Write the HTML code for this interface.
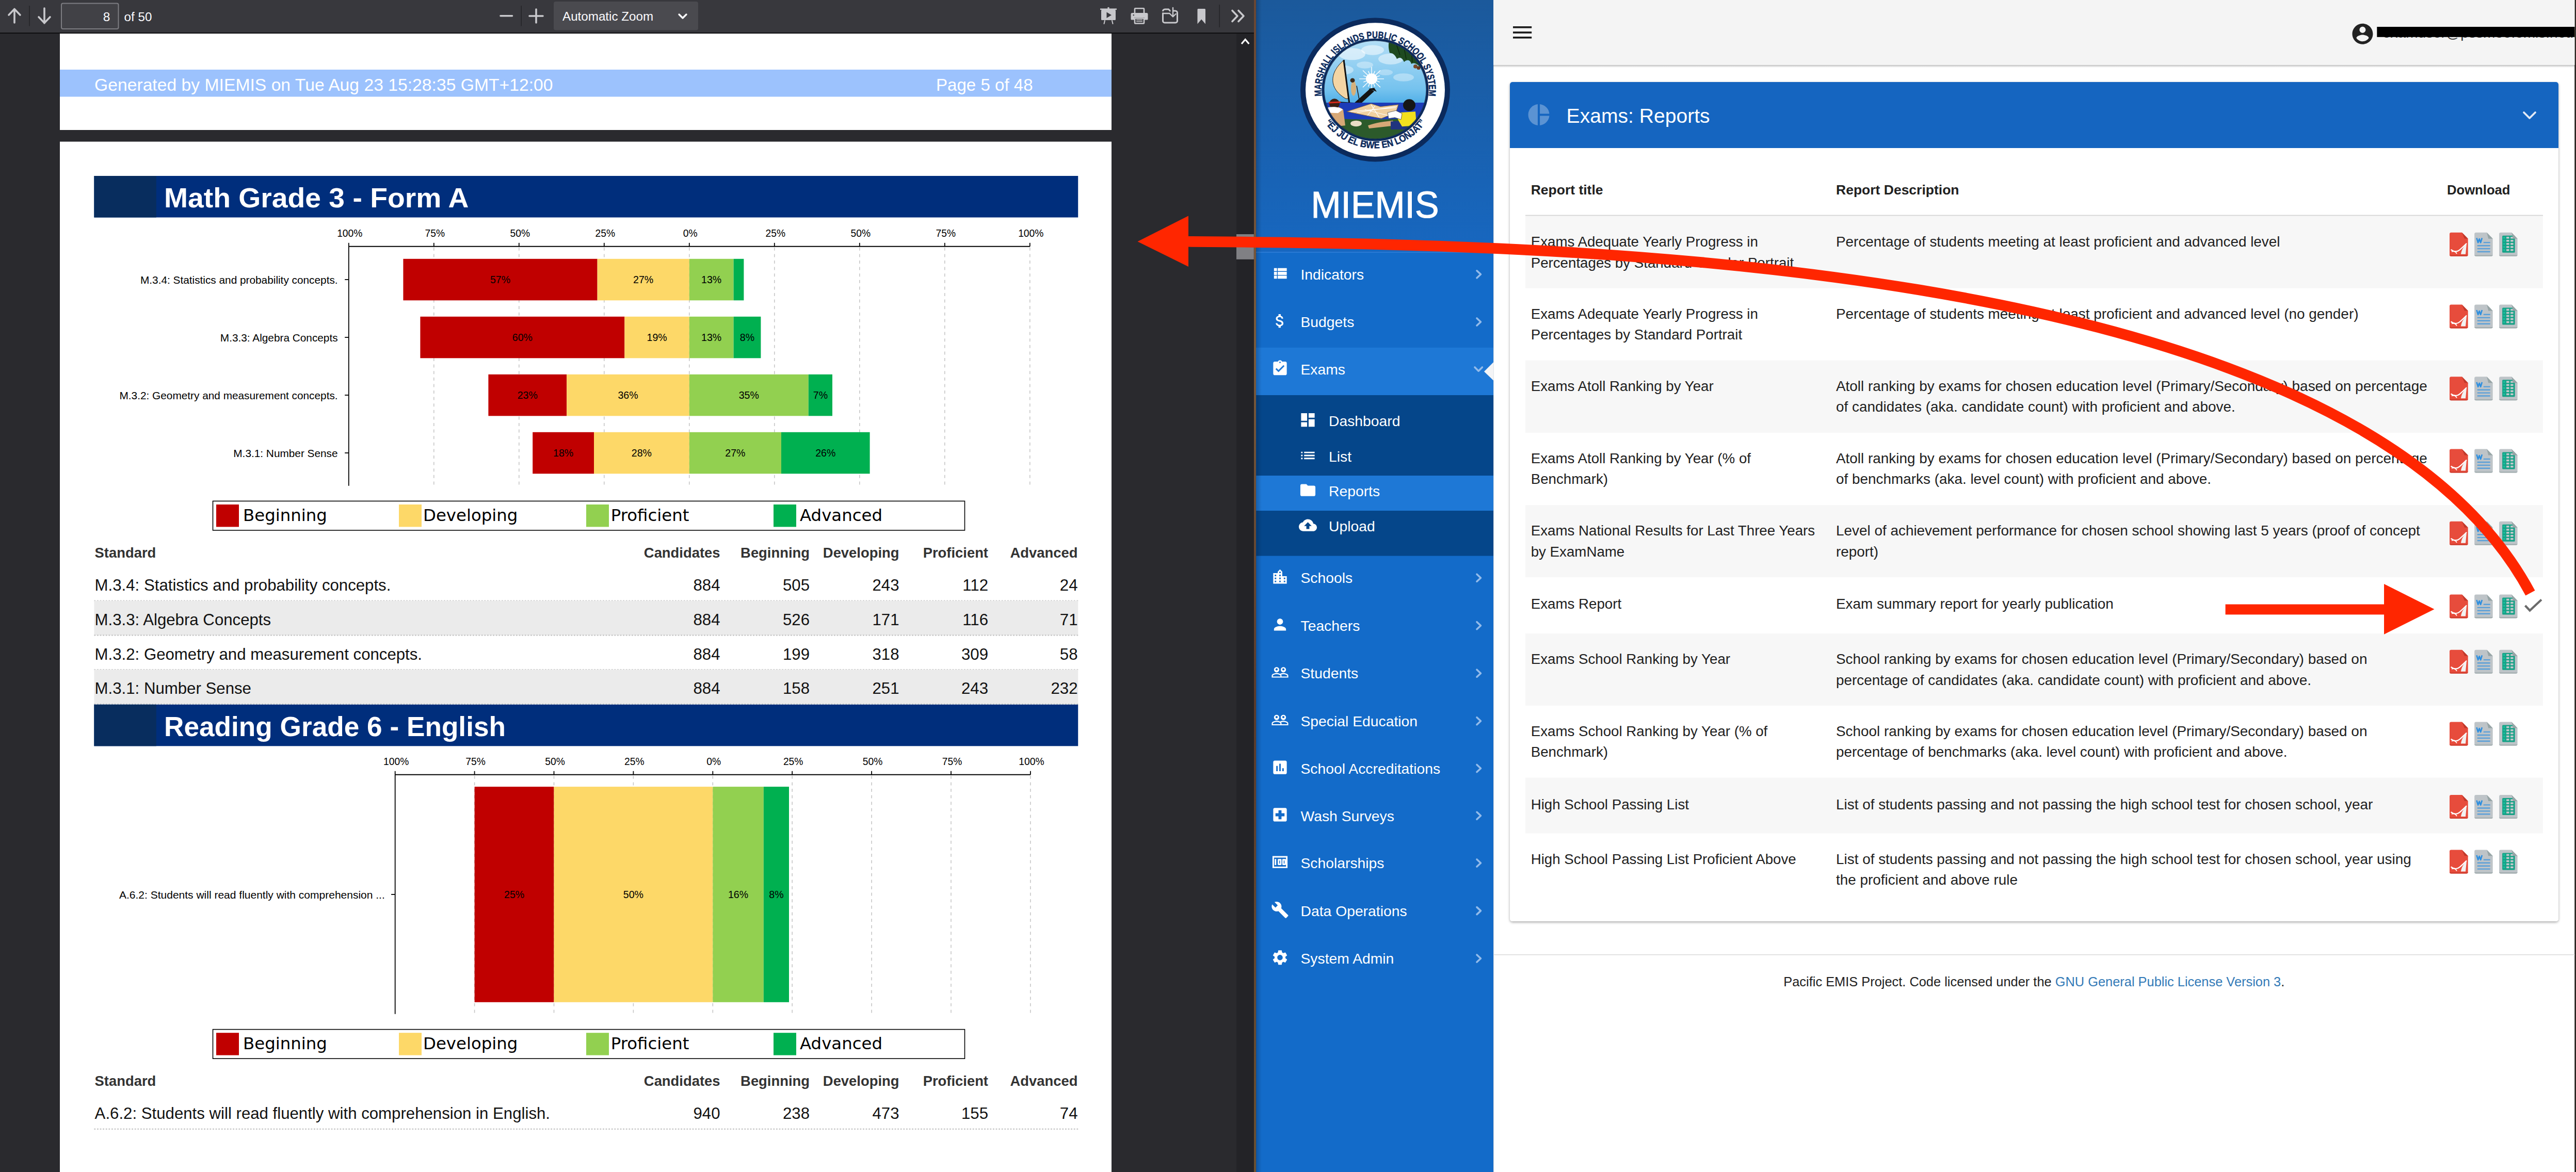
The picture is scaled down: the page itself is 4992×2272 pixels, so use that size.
<!DOCTYPE html>
<html lang="en">
<head>
<meta charset="utf-8">
<title>Exams: Reports - MIEMIS</title>
<style>
html, body { margin: 0; padding: 0; background: #2a2a2e; width: 100%; height: 100%; overflow: hidden; }
svg text { white-space: pre; }
</style>
</head>
<body>
<svg width="4992" height="2272" viewBox="0 0 4992 2272" preserveAspectRatio="none" style="display:block;width:100vw;height:100vh">
<rect x="0.0" y="0.0" width="2430.0" height="2272.0" fill="#2a2a2e" />
<rect x="2396.0" y="65.0" width="34.0" height="2207.0" fill="#232327" />
<rect x="116.0" y="65.0" width="2038.0" height="187.0" fill="#ffffff" />
<rect x="116.0" y="274.6" width="2038.0" height="1997.4" fill="#ffffff" />
<rect x="116.0" y="135.0" width="2038.0" height="52.5" fill="#9cc2fd" />
<text x="183.0" y="175.5" font-family="'Liberation Sans', Arial, sans-serif" font-size="33.7" font-weight="400" fill="#ffffff" text-anchor="start" >Generated by MIEMIS on Tue Aug 23 15:28:35 GMT+12:00</text>
<text x="1814.0" y="175.5" font-family="'Liberation Sans', Arial, sans-serif" font-size="33.1" font-weight="400" fill="#ffffff" text-anchor="start" >Page 5 of 48</text>
<rect x="0.0" y="0.0" width="2430.0" height="63.3" fill="#38383d" />
<rect x="0.0" y="63.3" width="2430.0" height="1.8" fill="#0c0c0d" />
<path d="M28 44 V18 M17 29 L28 17.5 L39 29" stroke="#c8c8cc" stroke-width="3.6" fill="none" stroke-linecap="round" stroke-linejoin="round"/>
<rect x="56.3" y="11.0" width="1.4" height="39.5" fill="#232326" />
<path d="M86 16 V45 M75 33 L86 44.5 L97 33" stroke="#c8c8cc" stroke-width="3.6" fill="none" stroke-linecap="round" stroke-linejoin="round"/>
<rect x="119" y="6.5" width="110.5" height="49.5" rx="3" fill="#414146" stroke="#7d7d82" stroke-width="2"/>
<text x="213.5" y="41.0" font-family="'Liberation Sans', Arial, sans-serif" font-size="24.5" font-weight="400" fill="#fbfbfe" text-anchor="end" >8</text>
<text x="240.6" y="41.0" font-family="'Liberation Sans', Arial, sans-serif" font-size="24.2" font-weight="400" fill="#fbfbfe" text-anchor="start" >of 50</text>
<path d="M970 30.7 H992.5" stroke="#c8c8cc" stroke-width="3.6" stroke-linecap="round"/>
<rect x="1009.5" y="11.0" width="1.4" height="39.5" fill="#232326" />
<path d="M1026 31 H1052 M1039 18 V44" stroke="#c8c8cc" stroke-width="3.6" stroke-linecap="round"/>
<rect x="1073" y="3" width="280" height="55.5" rx="4" fill="#4a4a4f"/>
<text x="1090.0" y="40.0" font-family="'Liberation Sans', Arial, sans-serif" font-size="24.2" font-weight="400" fill="#fbfbfe" text-anchor="start" >Automatic Zoom</text>
<path d="M1316 28 L1323 35 L1330 28" stroke="#fbfbfe" stroke-width="3.4" fill="none" stroke-linecap="round" stroke-linejoin="round"/>
<g fill="#c8c8cc" stroke="none"><rect x="2132" y="16.5" width="32" height="2.6"/><rect x="2134" y="19" width="28" height="20" rx="1.5"/><circle cx="2148" cy="15.5" r="1.8"/></g>
<path d="M2144.5 23.5 L2144.5 35 L2154 29.2 Z" fill="#38383d"/>
<path d="M2141 40 L2139.5 46 M2155 40 L2156.5 46" stroke="#c8c8cc" stroke-width="2" stroke-linecap="round"/>
<g fill="none" stroke="#c8c8cc" stroke-width="2.6"><rect x="2199" y="16.2" width="18" height="10" rx="1"/><rect x="2199" y="35.5" width="18" height="10" rx="1"/></g>
<path d="M2194 25 h28 a2.5 2.5 0 0 1 2.5 2.5 v9.5 a1.5 1.5 0 0 1 -1.5 1.5 h-5.5 v-4.5 h-19 v4.5 h-5.5 a1.5 1.5 0 0 1 -1.5 -1.5 v-9.5 a2.5 2.5 0 0 1 2.5 -2.5z" fill="#c8c8cc"/>
<path d="M2202 38.5 h12 M2202 41.5 h12" stroke="#c8c8cc" stroke-width="1.6"/>
<circle cx="2196.8" cy="29.2" r="1.2" fill="#38383d"/>
<path d="M2253.5 22 a4 4 0 0 1 4 -4 h7 l3 3 h1 M2273 21 h4.5 a4 4 0 0 1 4 4 v15.5 a3.5 3.5 0 0 1 -3.5 3.5 h-21 a3.5 3.5 0 0 1 -3.5 -3.5 v-16" stroke="#c8c8cc" stroke-width="3" fill="none"/>
<path d="M2253.5 26 h14" stroke="#c8c8cc" stroke-width="2.6"/>
<path d="M2273 15 V32 M2267.5 27 L2273 32.5 L2278.5 27" stroke="#c8c8cc" stroke-width="2.4" fill="none" stroke-linecap="round" stroke-linejoin="round"/>
<path d="M2320.5 18.5 a1.5 1.5 0 0 1 1.5 -1.5 h12.5 a1.5 1.5 0 0 1 1.5 1.5 V46.5 L2328.2 37.5 L2320.5 46.5 Z" fill="#c8c8cc"/>
<rect x="2362.5" y="9.0" width="1.4" height="44.0" fill="#232326" />
<path d="M2388 20.5 L2398 31 L2388 41.5 M2400 20.5 L2410 31 L2400 41.5" stroke="#c8c8cc" stroke-width="3.6" fill="none" stroke-linecap="round" stroke-linejoin="round"/>
<path d="M2406 85 L2413.2 76.5 L2420.4 85" stroke="#ffffff" stroke-width="3.2" fill="none"/>
<rect x="2396.0" y="454.0" width="33.8" height="48.8" fill="#808084" />
<defs><linearGradient id="brown" x1="0" y1="0" x2="0" y2="1"><stop offset="0" stop-color="#6a4632"/><stop offset="0.3" stop-color="#7a5a3a"/><stop offset="0.6" stop-color="#5a3a2a"/><stop offset="1" stop-color="#6b5030"/></linearGradient></defs>
<rect x="2430.0" y="0.0" width="4.2" height="2272.0" fill="url(#brown)" />
<rect x="182.4" y="341.0" width="1906.8" height="80.5" fill="#002e7c" />
<rect x="182.4" y="341.0" width="120.4" height="80.5" fill="#082d5e" />
<text x="318.0" y="401.8" font-family="'Liberation Sans', Arial, sans-serif" font-size="54.5" font-weight="700" fill="#ffffff" text-anchor="start" textLength="590.5" lengthAdjust="spacingAndGlyphs">Math Grade 3 - Form A</text>
<line x1="840.8" y1="479.8" x2="840.8" y2="941.8" stroke="#c6c6c6" stroke-width="1.6" stroke-dasharray="6,6.6"/>
<line x1="1005.8" y1="479.8" x2="1005.8" y2="941.8" stroke="#c6c6c6" stroke-width="1.6" stroke-dasharray="6,6.6"/>
<line x1="1170.8" y1="479.8" x2="1170.8" y2="941.8" stroke="#c6c6c6" stroke-width="1.6" stroke-dasharray="6,6.6"/>
<line x1="1335.8" y1="479.8" x2="1335.8" y2="941.8" stroke="#c6c6c6" stroke-width="1.6" stroke-dasharray="6,6.6"/>
<line x1="1500.8" y1="479.8" x2="1500.8" y2="941.8" stroke="#c6c6c6" stroke-width="1.6" stroke-dasharray="6,6.6"/>
<line x1="1665.8" y1="479.8" x2="1665.8" y2="941.8" stroke="#c6c6c6" stroke-width="1.6" stroke-dasharray="6,6.6"/>
<line x1="1830.8" y1="479.8" x2="1830.8" y2="941.8" stroke="#c6c6c6" stroke-width="1.6" stroke-dasharray="6,6.6"/>
<line x1="1995.8" y1="479.8" x2="1995.8" y2="941.8" stroke="#c6c6c6" stroke-width="1.6" stroke-dasharray="6,6.6"/>
<rect x="781.4" y="501.8" width="376.2" height="80.5" fill="#c00000" />
<text x="969.5" y="549.2" font-family="'Liberation Sans', Arial, sans-serif" font-size="19.6" font-weight="400" fill="#000" text-anchor="middle" >57%</text>
<rect x="1157.6" y="501.8" width="178.2" height="80.5" fill="#fdd868" />
<text x="1246.7" y="549.2" font-family="'Liberation Sans', Arial, sans-serif" font-size="19.6" font-weight="400" fill="#000" text-anchor="middle" >27%</text>
<rect x="1335.8" y="501.8" width="85.8" height="80.5" fill="#92d050" />
<text x="1378.7" y="549.2" font-family="'Liberation Sans', Arial, sans-serif" font-size="19.6" font-weight="400" fill="#000" text-anchor="middle" >13%</text>
<rect x="1421.6" y="501.8" width="19.8" height="80.5" fill="#00b050" />
<rect x="814.4" y="613.8" width="396.0" height="80.5" fill="#c00000" />
<text x="1012.4" y="661.2" font-family="'Liberation Sans', Arial, sans-serif" font-size="19.6" font-weight="400" fill="#000" text-anchor="middle" >60%</text>
<rect x="1210.4" y="613.8" width="125.4" height="80.5" fill="#fdd868" />
<text x="1273.1" y="661.2" font-family="'Liberation Sans', Arial, sans-serif" font-size="19.6" font-weight="400" fill="#000" text-anchor="middle" >19%</text>
<rect x="1335.8" y="613.8" width="85.8" height="80.5" fill="#92d050" />
<text x="1378.7" y="661.2" font-family="'Liberation Sans', Arial, sans-serif" font-size="19.6" font-weight="400" fill="#000" text-anchor="middle" >13%</text>
<rect x="1421.6" y="613.8" width="52.8" height="80.5" fill="#00b050" />
<text x="1448.0" y="661.2" font-family="'Liberation Sans', Arial, sans-serif" font-size="19.6" font-weight="400" fill="#000" text-anchor="middle" >8%</text>
<rect x="946.4" y="725.8" width="151.8" height="80.5" fill="#c00000" />
<text x="1022.3" y="773.2" font-family="'Liberation Sans', Arial, sans-serif" font-size="19.6" font-weight="400" fill="#000" text-anchor="middle" >23%</text>
<rect x="1098.2" y="725.8" width="237.6" height="80.5" fill="#fdd868" />
<text x="1217.0" y="773.2" font-family="'Liberation Sans', Arial, sans-serif" font-size="19.6" font-weight="400" fill="#000" text-anchor="middle" >36%</text>
<rect x="1335.8" y="725.8" width="231.0" height="80.5" fill="#92d050" />
<text x="1451.3" y="773.2" font-family="'Liberation Sans', Arial, sans-serif" font-size="19.6" font-weight="400" fill="#000" text-anchor="middle" >35%</text>
<rect x="1566.8" y="725.8" width="46.2" height="80.5" fill="#00b050" />
<text x="1589.9" y="773.2" font-family="'Liberation Sans', Arial, sans-serif" font-size="19.6" font-weight="400" fill="#000" text-anchor="middle" >7%</text>
<rect x="1032.2" y="837.8" width="118.8" height="80.5" fill="#c00000" />
<text x="1091.6" y="885.2" font-family="'Liberation Sans', Arial, sans-serif" font-size="19.6" font-weight="400" fill="#000" text-anchor="middle" >18%</text>
<rect x="1151.0" y="837.8" width="184.8" height="80.5" fill="#fdd868" />
<text x="1243.4" y="885.2" font-family="'Liberation Sans', Arial, sans-serif" font-size="19.6" font-weight="400" fill="#000" text-anchor="middle" >28%</text>
<rect x="1335.8" y="837.8" width="178.2" height="80.5" fill="#92d050" />
<text x="1424.9" y="885.2" font-family="'Liberation Sans', Arial, sans-serif" font-size="19.6" font-weight="400" fill="#000" text-anchor="middle" >27%</text>
<rect x="1514.0" y="837.8" width="171.6" height="80.5" fill="#00b050" />
<text x="1599.8" y="885.2" font-family="'Liberation Sans', Arial, sans-serif" font-size="19.6" font-weight="400" fill="#000" text-anchor="middle" >26%</text>
<line x1="675.8" y1="477.8" x2="1995.8" y2="477.8" stroke="#000" stroke-width="2"/>
<line x1="675.8" y1="470.8" x2="675.8" y2="477.8" stroke="#000" stroke-width="1.8"/>
<line x1="840.8" y1="470.8" x2="840.8" y2="477.8" stroke="#000" stroke-width="1.8"/>
<line x1="1005.8" y1="470.8" x2="1005.8" y2="477.8" stroke="#000" stroke-width="1.8"/>
<line x1="1170.8" y1="470.8" x2="1170.8" y2="477.8" stroke="#000" stroke-width="1.8"/>
<line x1="1335.8" y1="470.8" x2="1335.8" y2="477.8" stroke="#000" stroke-width="1.8"/>
<line x1="1500.8" y1="470.8" x2="1500.8" y2="477.8" stroke="#000" stroke-width="1.8"/>
<line x1="1665.8" y1="470.8" x2="1665.8" y2="477.8" stroke="#000" stroke-width="1.8"/>
<line x1="1830.8" y1="470.8" x2="1830.8" y2="477.8" stroke="#000" stroke-width="1.8"/>
<line x1="1995.8" y1="470.8" x2="1995.8" y2="477.8" stroke="#000" stroke-width="1.8"/>
<line x1="675.8" y1="477.8" x2="675.8" y2="941.8" stroke="#000" stroke-width="1.8"/>
<text x="677.8" y="459.0" font-family="'Liberation Sans', Arial, sans-serif" font-size="19.3" font-weight="400" fill="#000" text-anchor="middle" >100%</text>
<text x="842.8" y="459.0" font-family="'Liberation Sans', Arial, sans-serif" font-size="19.3" font-weight="400" fill="#000" text-anchor="middle" >75%</text>
<text x="1007.8" y="459.0" font-family="'Liberation Sans', Arial, sans-serif" font-size="19.3" font-weight="400" fill="#000" text-anchor="middle" >50%</text>
<text x="1172.8" y="459.0" font-family="'Liberation Sans', Arial, sans-serif" font-size="19.3" font-weight="400" fill="#000" text-anchor="middle" >25%</text>
<text x="1337.8" y="459.0" font-family="'Liberation Sans', Arial, sans-serif" font-size="19.3" font-weight="400" fill="#000" text-anchor="middle" >0%</text>
<text x="1502.8" y="459.0" font-family="'Liberation Sans', Arial, sans-serif" font-size="19.3" font-weight="400" fill="#000" text-anchor="middle" >25%</text>
<text x="1667.8" y="459.0" font-family="'Liberation Sans', Arial, sans-serif" font-size="19.3" font-weight="400" fill="#000" text-anchor="middle" >50%</text>
<text x="1832.8" y="459.0" font-family="'Liberation Sans', Arial, sans-serif" font-size="19.3" font-weight="400" fill="#000" text-anchor="middle" >75%</text>
<text x="1997.8" y="459.0" font-family="'Liberation Sans', Arial, sans-serif" font-size="19.3" font-weight="400" fill="#000" text-anchor="middle" >100%</text>
<line x1="668.2" y1="542.0" x2="675.8" y2="542.0" stroke="#000" stroke-width="1.8"/>
<text x="654.6" y="549.7" font-family="'Liberation Sans', Arial, sans-serif" font-size="20.8" font-weight="400" fill="#000" text-anchor="end" >M.3.4: Statistics and probability concepts.</text>
<line x1="668.2" y1="654.0" x2="675.8" y2="654.0" stroke="#000" stroke-width="1.8"/>
<text x="654.6" y="661.7" font-family="'Liberation Sans', Arial, sans-serif" font-size="20.8" font-weight="400" fill="#000" text-anchor="end" >M.3.3: Algebra Concepts</text>
<line x1="668.2" y1="766.0" x2="675.8" y2="766.0" stroke="#000" stroke-width="1.8"/>
<text x="654.6" y="773.7" font-family="'Liberation Sans', Arial, sans-serif" font-size="20.8" font-weight="400" fill="#000" text-anchor="end" >M.3.2: Geometry and measurement concepts.</text>
<line x1="668.2" y1="878.0" x2="675.8" y2="878.0" stroke="#000" stroke-width="1.8"/>
<text x="654.6" y="885.7" font-family="'Liberation Sans', Arial, sans-serif" font-size="20.8" font-weight="400" fill="#000" text-anchor="end" >M.3.1: Number Sense</text>
<rect x="412.5" y="971.4" width="1457" height="56.6" fill="#fff" stroke="#000" stroke-width="1.6"/>
<rect x="419.0" y="978.0" width="44.0" height="43.4" fill="#c00000" />
<text x="471.0" y="1009.6" font-family="'DejaVu Sans', sans-serif" font-size="32.4" font-weight="400" fill="#000" text-anchor="start" >Beginning</text>
<rect x="773.0" y="978.0" width="44.0" height="43.4" fill="#fdd868" />
<text x="820.0" y="1009.6" font-family="'DejaVu Sans', sans-serif" font-size="32.4" font-weight="400" fill="#000" text-anchor="start" >Developing</text>
<rect x="1136.0" y="978.0" width="44.0" height="43.4" fill="#92d050" />
<text x="1183.7" y="1009.6" font-family="'DejaVu Sans', sans-serif" font-size="32.4" font-weight="400" fill="#000" text-anchor="start" >Proficient</text>
<rect x="1499.0" y="978.0" width="44.0" height="43.4" fill="#00b050" />
<text x="1550.0" y="1009.6" font-family="'DejaVu Sans', sans-serif" font-size="32.4" font-weight="400" fill="#000" text-anchor="start" >Advanced</text>
<text x="183.6" y="1080.6" font-family="'Liberation Sans', Arial, sans-serif" font-size="27.4" font-weight="700" fill="#333333" text-anchor="start" >Standard</text>
<text x="1395.5" y="1080.6" font-family="'Liberation Sans', Arial, sans-serif" font-size="27.4" font-weight="700" fill="#333333" text-anchor="end" >Candidates</text>
<text x="1569.0" y="1080.6" font-family="'Liberation Sans', Arial, sans-serif" font-size="27.4" font-weight="700" fill="#333333" text-anchor="end" >Beginning</text>
<text x="1742.5" y="1080.6" font-family="'Liberation Sans', Arial, sans-serif" font-size="27.4" font-weight="700" fill="#333333" text-anchor="end" >Developing</text>
<text x="1915.0" y="1080.6" font-family="'Liberation Sans', Arial, sans-serif" font-size="27.4" font-weight="700" fill="#333333" text-anchor="end" >Proficient</text>
<text x="2088.5" y="1080.6" font-family="'Liberation Sans', Arial, sans-serif" font-size="27.4" font-weight="700" fill="#333333" text-anchor="end" >Advanced</text>
<line x1="182.4" y1="1164.8" x2="2089.2" y2="1164.8" stroke="#c9c9c9" stroke-width="2.6" stroke-dasharray="2.8,2.8"/>
<text x="183.6" y="1145.0" font-family="'Liberation Sans', Arial, sans-serif" font-size="31.2" font-weight="400" fill="#111" text-anchor="start" >M.3.4: Statistics and probability concepts.</text>
<text x="1395.5" y="1145.0" font-family="'Liberation Sans', Arial, sans-serif" font-size="31.2" font-weight="400" fill="#111" text-anchor="end" >884</text>
<text x="1569.0" y="1145.0" font-family="'Liberation Sans', Arial, sans-serif" font-size="31.2" font-weight="400" fill="#111" text-anchor="end" >505</text>
<text x="1742.5" y="1145.0" font-family="'Liberation Sans', Arial, sans-serif" font-size="31.2" font-weight="400" fill="#111" text-anchor="end" >243</text>
<text x="1915.0" y="1145.0" font-family="'Liberation Sans', Arial, sans-serif" font-size="31.2" font-weight="400" fill="#111" text-anchor="end" >112</text>
<text x="2088.5" y="1145.0" font-family="'Liberation Sans', Arial, sans-serif" font-size="31.2" font-weight="400" fill="#111" text-anchor="end" >24</text>
<rect x="182.4" y="1164.8" width="1906.8" height="66.8" fill="#ebebeb" />
<line x1="182.4" y1="1231.5" x2="2089.2" y2="1231.5" stroke="#c9c9c9" stroke-width="2.6" stroke-dasharray="2.8,2.8"/>
<text x="183.6" y="1211.8" font-family="'Liberation Sans', Arial, sans-serif" font-size="31.2" font-weight="400" fill="#111" text-anchor="start" >M.3.3: Algebra Concepts</text>
<text x="1395.5" y="1211.8" font-family="'Liberation Sans', Arial, sans-serif" font-size="31.2" font-weight="400" fill="#111" text-anchor="end" >884</text>
<text x="1569.0" y="1211.8" font-family="'Liberation Sans', Arial, sans-serif" font-size="31.2" font-weight="400" fill="#111" text-anchor="end" >526</text>
<text x="1742.5" y="1211.8" font-family="'Liberation Sans', Arial, sans-serif" font-size="31.2" font-weight="400" fill="#111" text-anchor="end" >171</text>
<text x="1915.0" y="1211.8" font-family="'Liberation Sans', Arial, sans-serif" font-size="31.2" font-weight="400" fill="#111" text-anchor="end" >116</text>
<text x="2088.5" y="1211.8" font-family="'Liberation Sans', Arial, sans-serif" font-size="31.2" font-weight="400" fill="#111" text-anchor="end" >71</text>
<line x1="182.4" y1="1298.2" x2="2089.2" y2="1298.2" stroke="#c9c9c9" stroke-width="2.6" stroke-dasharray="2.8,2.8"/>
<text x="183.6" y="1278.5" font-family="'Liberation Sans', Arial, sans-serif" font-size="31.2" font-weight="400" fill="#111" text-anchor="start" >M.3.2: Geometry and measurement concepts.</text>
<text x="1395.5" y="1278.5" font-family="'Liberation Sans', Arial, sans-serif" font-size="31.2" font-weight="400" fill="#111" text-anchor="end" >884</text>
<text x="1569.0" y="1278.5" font-family="'Liberation Sans', Arial, sans-serif" font-size="31.2" font-weight="400" fill="#111" text-anchor="end" >199</text>
<text x="1742.5" y="1278.5" font-family="'Liberation Sans', Arial, sans-serif" font-size="31.2" font-weight="400" fill="#111" text-anchor="end" >318</text>
<text x="1915.0" y="1278.5" font-family="'Liberation Sans', Arial, sans-serif" font-size="31.2" font-weight="400" fill="#111" text-anchor="end" >309</text>
<text x="2088.5" y="1278.5" font-family="'Liberation Sans', Arial, sans-serif" font-size="31.2" font-weight="400" fill="#111" text-anchor="end" >58</text>
<rect x="182.4" y="1298.2" width="1906.8" height="66.8" fill="#ebebeb" />
<line x1="182.4" y1="1365.0" x2="2089.2" y2="1365.0" stroke="#c9c9c9" stroke-width="2.6" stroke-dasharray="2.8,2.8"/>
<text x="183.6" y="1345.2" font-family="'Liberation Sans', Arial, sans-serif" font-size="31.2" font-weight="400" fill="#111" text-anchor="start" >M.3.1: Number Sense</text>
<text x="1395.5" y="1345.2" font-family="'Liberation Sans', Arial, sans-serif" font-size="31.2" font-weight="400" fill="#111" text-anchor="end" >884</text>
<text x="1569.0" y="1345.2" font-family="'Liberation Sans', Arial, sans-serif" font-size="31.2" font-weight="400" fill="#111" text-anchor="end" >158</text>
<text x="1742.5" y="1345.2" font-family="'Liberation Sans', Arial, sans-serif" font-size="31.2" font-weight="400" fill="#111" text-anchor="end" >251</text>
<text x="1915.0" y="1345.2" font-family="'Liberation Sans', Arial, sans-serif" font-size="31.2" font-weight="400" fill="#111" text-anchor="end" >243</text>
<text x="2088.5" y="1345.2" font-family="'Liberation Sans', Arial, sans-serif" font-size="31.2" font-weight="400" fill="#111" text-anchor="end" >232</text>
<rect x="182.4" y="1365.8" width="1906.8" height="80.5" fill="#002e7c" />
<rect x="182.4" y="1365.8" width="120.4" height="80.5" fill="#082d5e" />
<text x="318.0" y="1426.6" font-family="'Liberation Sans', Arial, sans-serif" font-size="54.5" font-weight="700" fill="#ffffff" text-anchor="start" textLength="662" lengthAdjust="spacingAndGlyphs">Reading Grade 6 - English</text>
<line x1="919.6" y1="1503.8" x2="919.6" y2="1965.8" stroke="#c6c6c6" stroke-width="1.6" stroke-dasharray="6,6.6"/>
<line x1="1073.5" y1="1503.8" x2="1073.5" y2="1965.8" stroke="#c6c6c6" stroke-width="1.6" stroke-dasharray="6,6.6"/>
<line x1="1227.4" y1="1503.8" x2="1227.4" y2="1965.8" stroke="#c6c6c6" stroke-width="1.6" stroke-dasharray="6,6.6"/>
<line x1="1381.3" y1="1503.8" x2="1381.3" y2="1965.8" stroke="#c6c6c6" stroke-width="1.6" stroke-dasharray="6,6.6"/>
<line x1="1535.2" y1="1503.8" x2="1535.2" y2="1965.8" stroke="#c6c6c6" stroke-width="1.6" stroke-dasharray="6,6.6"/>
<line x1="1689.1" y1="1503.8" x2="1689.1" y2="1965.8" stroke="#c6c6c6" stroke-width="1.6" stroke-dasharray="6,6.6"/>
<line x1="1843.0" y1="1503.8" x2="1843.0" y2="1965.8" stroke="#c6c6c6" stroke-width="1.6" stroke-dasharray="6,6.6"/>
<line x1="1996.9" y1="1503.8" x2="1996.9" y2="1965.8" stroke="#c6c6c6" stroke-width="1.6" stroke-dasharray="6,6.6"/>
<rect x="919.6" y="1525.1" width="153.9" height="417.7" fill="#c00000" />
<text x="996.6" y="1741.1" font-family="'Liberation Sans', Arial, sans-serif" font-size="19.6" font-weight="400" fill="#000" text-anchor="middle" >25%</text>
<rect x="1073.5" y="1525.1" width="307.8" height="417.7" fill="#fdd868" />
<text x="1227.4" y="1741.1" font-family="'Liberation Sans', Arial, sans-serif" font-size="19.6" font-weight="400" fill="#000" text-anchor="middle" >50%</text>
<rect x="1381.3" y="1525.1" width="98.5" height="417.7" fill="#92d050" />
<text x="1430.5" y="1741.1" font-family="'Liberation Sans', Arial, sans-serif" font-size="19.6" font-weight="400" fill="#000" text-anchor="middle" >16%</text>
<rect x="1479.8" y="1525.1" width="49.2" height="417.7" fill="#00b050" />
<text x="1504.4" y="1741.1" font-family="'Liberation Sans', Arial, sans-serif" font-size="19.6" font-weight="400" fill="#000" text-anchor="middle" >8%</text>
<line x1="765.7" y1="1501.8" x2="1996.9" y2="1501.8" stroke="#000" stroke-width="2"/>
<line x1="765.7" y1="1494.8" x2="765.7" y2="1501.8" stroke="#000" stroke-width="1.8"/>
<line x1="919.6" y1="1494.8" x2="919.6" y2="1501.8" stroke="#000" stroke-width="1.8"/>
<line x1="1073.5" y1="1494.8" x2="1073.5" y2="1501.8" stroke="#000" stroke-width="1.8"/>
<line x1="1227.4" y1="1494.8" x2="1227.4" y2="1501.8" stroke="#000" stroke-width="1.8"/>
<line x1="1381.3" y1="1494.8" x2="1381.3" y2="1501.8" stroke="#000" stroke-width="1.8"/>
<line x1="1535.2" y1="1494.8" x2="1535.2" y2="1501.8" stroke="#000" stroke-width="1.8"/>
<line x1="1689.1" y1="1494.8" x2="1689.1" y2="1501.8" stroke="#000" stroke-width="1.8"/>
<line x1="1843.0" y1="1494.8" x2="1843.0" y2="1501.8" stroke="#000" stroke-width="1.8"/>
<line x1="1996.9" y1="1494.8" x2="1996.9" y2="1501.8" stroke="#000" stroke-width="1.8"/>
<line x1="765.7" y1="1501.8" x2="765.7" y2="1965.8" stroke="#000" stroke-width="1.8"/>
<text x="767.7" y="1483.0" font-family="'Liberation Sans', Arial, sans-serif" font-size="19.3" font-weight="400" fill="#000" text-anchor="middle" >100%</text>
<text x="921.6" y="1483.0" font-family="'Liberation Sans', Arial, sans-serif" font-size="19.3" font-weight="400" fill="#000" text-anchor="middle" >75%</text>
<text x="1075.5" y="1483.0" font-family="'Liberation Sans', Arial, sans-serif" font-size="19.3" font-weight="400" fill="#000" text-anchor="middle" >50%</text>
<text x="1229.4" y="1483.0" font-family="'Liberation Sans', Arial, sans-serif" font-size="19.3" font-weight="400" fill="#000" text-anchor="middle" >25%</text>
<text x="1383.3" y="1483.0" font-family="'Liberation Sans', Arial, sans-serif" font-size="19.3" font-weight="400" fill="#000" text-anchor="middle" >0%</text>
<text x="1537.2" y="1483.0" font-family="'Liberation Sans', Arial, sans-serif" font-size="19.3" font-weight="400" fill="#000" text-anchor="middle" >25%</text>
<text x="1691.1" y="1483.0" font-family="'Liberation Sans', Arial, sans-serif" font-size="19.3" font-weight="400" fill="#000" text-anchor="middle" >50%</text>
<text x="1845.0" y="1483.0" font-family="'Liberation Sans', Arial, sans-serif" font-size="19.3" font-weight="400" fill="#000" text-anchor="middle" >75%</text>
<text x="1998.9" y="1483.0" font-family="'Liberation Sans', Arial, sans-serif" font-size="19.3" font-weight="400" fill="#000" text-anchor="middle" >100%</text>
<line x1="758.1" y1="1733.9" x2="765.7" y2="1733.9" stroke="#000" stroke-width="1.8"/>
<text x="745.8" y="1741.6" font-family="'Liberation Sans', Arial, sans-serif" font-size="21.0" font-weight="400" fill="#000" text-anchor="end" >A.6.2: Students will read fluently with comprehension ...</text>
<rect x="412.5" y="1995.6" width="1457" height="56.6" fill="#fff" stroke="#000" stroke-width="1.6"/>
<rect x="419.0" y="2002.2" width="44.0" height="43.4" fill="#c00000" />
<text x="471.0" y="2033.8" font-family="'DejaVu Sans', sans-serif" font-size="32.4" font-weight="400" fill="#000" text-anchor="start" >Beginning</text>
<rect x="773.0" y="2002.2" width="44.0" height="43.4" fill="#fdd868" />
<text x="820.0" y="2033.8" font-family="'DejaVu Sans', sans-serif" font-size="32.4" font-weight="400" fill="#000" text-anchor="start" >Developing</text>
<rect x="1136.0" y="2002.2" width="44.0" height="43.4" fill="#92d050" />
<text x="1183.7" y="2033.8" font-family="'DejaVu Sans', sans-serif" font-size="32.4" font-weight="400" fill="#000" text-anchor="start" >Proficient</text>
<rect x="1499.0" y="2002.2" width="44.0" height="43.4" fill="#00b050" />
<text x="1550.0" y="2033.8" font-family="'DejaVu Sans', sans-serif" font-size="32.4" font-weight="400" fill="#000" text-anchor="start" >Advanced</text>
<text x="183.6" y="2104.6" font-family="'Liberation Sans', Arial, sans-serif" font-size="27.4" font-weight="700" fill="#333333" text-anchor="start" >Standard</text>
<text x="1395.5" y="2104.6" font-family="'Liberation Sans', Arial, sans-serif" font-size="27.4" font-weight="700" fill="#333333" text-anchor="end" >Candidates</text>
<text x="1569.0" y="2104.6" font-family="'Liberation Sans', Arial, sans-serif" font-size="27.4" font-weight="700" fill="#333333" text-anchor="end" >Beginning</text>
<text x="1742.5" y="2104.6" font-family="'Liberation Sans', Arial, sans-serif" font-size="27.4" font-weight="700" fill="#333333" text-anchor="end" >Developing</text>
<text x="1915.0" y="2104.6" font-family="'Liberation Sans', Arial, sans-serif" font-size="27.4" font-weight="700" fill="#333333" text-anchor="end" >Proficient</text>
<text x="2088.5" y="2104.6" font-family="'Liberation Sans', Arial, sans-serif" font-size="27.4" font-weight="700" fill="#333333" text-anchor="end" >Advanced</text>
<line x1="182.4" y1="2188.8" x2="2089.2" y2="2188.8" stroke="#c9c9c9" stroke-width="2.6" stroke-dasharray="2.8,2.8"/>
<text x="183.6" y="2169.0" font-family="'Liberation Sans', Arial, sans-serif" font-size="31.2" font-weight="400" fill="#111" text-anchor="start" >A.6.2: Students will read fluently with comprehension in English.</text>
<text x="1395.5" y="2169.0" font-family="'Liberation Sans', Arial, sans-serif" font-size="31.2" font-weight="400" fill="#111" text-anchor="end" >940</text>
<text x="1569.0" y="2169.0" font-family="'Liberation Sans', Arial, sans-serif" font-size="31.2" font-weight="400" fill="#111" text-anchor="end" >238</text>
<text x="1742.5" y="2169.0" font-family="'Liberation Sans', Arial, sans-serif" font-size="31.2" font-weight="400" fill="#111" text-anchor="end" >473</text>
<text x="1915.0" y="2169.0" font-family="'Liberation Sans', Arial, sans-serif" font-size="31.2" font-weight="400" fill="#111" text-anchor="end" >155</text>
<text x="2088.5" y="2169.0" font-family="'Liberation Sans', Arial, sans-serif" font-size="31.2" font-weight="400" fill="#111" text-anchor="end" >74</text>
<defs><linearGradient id="sbtop" x1="0" y1="0" x2="0" y2="1"><stop offset="0" stop-color="#1b599b"/><stop offset="1" stop-color="#1767c0"/></linearGradient><linearGradient id="sbshadow" x1="0" y1="0" x2="1" y2="0"><stop offset="0" stop-color="#000" stop-opacity="0.2"/><stop offset="1" stop-color="#000" stop-opacity="0"/></linearGradient></defs>
<rect x="2434.2" y="0.0" width="460.0" height="489.0" fill="url(#sbtop)" />
<rect x="2434.2" y="489.0" width="460.0" height="1783.0" fill="#136bc9" />
<rect x="2434.2" y="488.0" width="460.0" height="2.0" fill="#2a7ad4" />
<rect x="2434.2" y="673.8" width="460.0" height="92.2" fill="#1e78d6" />
<rect x="2434.2" y="766.0" width="460.0" height="311.6" fill="#05468a" />
<rect x="2434.2" y="922.0" width="460.0" height="68.0" fill="#1e78d6" />
<rect x="2434.2" y="0.0" width="11.0" height="2272.0" fill="url(#sbshadow)" />
<g transform="translate(2665,174) scale(1,0.962)">
<defs><linearGradient id="sky" x1="0" y1="0" x2="0" y2="1"><stop offset="0" stop-color="#b3def6"/><stop offset="0.5" stop-color="#74c2ee"/><stop offset="0.63" stop-color="#52b0e8"/></linearGradient><clipPath id="scene"><circle cx="0" cy="0" r="99"/></clipPath><path id="arcTop" d="M -102.4 18.1 A 104 104 0 1 1 102.4 18.1"/><path id="arcBot" d="M -118 0 A 118 118 0 0 0 118 0"/></defs>
<circle cx="0" cy="0" r="145" fill="#0b2a5c"/>
<circle cx="0" cy="0" r="135" fill="#ffffff"/>
<circle cx="0" cy="0" r="103.5" fill="#0b2a5c"/>
<g clip-path="url(#scene)">
<rect x="-100" y="-100" width="200" height="200" fill="url(#sky)"/>
<ellipse cx="-45" cy="-72" rx="26" ry="12" fill="#ffffff" opacity="0.55"/>
<ellipse cx="-5" cy="-80" rx="22" ry="10" fill="#ffffff" opacity="0.5"/>
<ellipse cx="30" cy="-62" rx="24" ry="11" fill="#ffffff" opacity="0.45"/>
<ellipse cx="-60" cy="-40" rx="18" ry="9" fill="#ffffff" opacity="0.4"/>
<ellipse cx="55" cy="-25" rx="20" ry="8" fill="#ffffff" opacity="0.35"/>
<ellipse cx="-20" cy="-50" rx="16" ry="7" fill="#ffffff" opacity="0.35"/>
<ellipse cx="20" cy="-35" rx="14" ry="6" fill="#ffffff" opacity="0.3"/>
<line x1="-7" y1="-22" x2="17.0" y2="-22.0" stroke="#ffffff" stroke-width="1.4"/>
<line x1="-7" y1="-22" x2="8.7" y2="-15.5" stroke="#ffffff" stroke-width="1.4"/>
<line x1="-7" y1="-22" x2="10.0" y2="-5.0" stroke="#ffffff" stroke-width="1.4"/>
<line x1="-7" y1="-22" x2="-0.5" y2="-6.3" stroke="#ffffff" stroke-width="1.4"/>
<line x1="-7" y1="-22" x2="-7.0" y2="2.0" stroke="#ffffff" stroke-width="1.4"/>
<line x1="-7" y1="-22" x2="-13.5" y2="-6.3" stroke="#ffffff" stroke-width="1.4"/>
<line x1="-7" y1="-22" x2="-24.0" y2="-5.0" stroke="#ffffff" stroke-width="1.4"/>
<line x1="-7" y1="-22" x2="-22.7" y2="-15.5" stroke="#ffffff" stroke-width="1.4"/>
<line x1="-7" y1="-22" x2="-31.0" y2="-22.0" stroke="#ffffff" stroke-width="1.4"/>
<line x1="-7" y1="-22" x2="-22.7" y2="-28.5" stroke="#ffffff" stroke-width="1.4"/>
<line x1="-7" y1="-22" x2="-24.0" y2="-39.0" stroke="#ffffff" stroke-width="1.4"/>
<line x1="-7" y1="-22" x2="-13.5" y2="-37.7" stroke="#ffffff" stroke-width="1.4"/>
<line x1="-7" y1="-22" x2="-7.0" y2="-46.0" stroke="#ffffff" stroke-width="1.4"/>
<line x1="-7" y1="-22" x2="-0.5" y2="-37.7" stroke="#ffffff" stroke-width="1.4"/>
<line x1="-7" y1="-22" x2="10.0" y2="-39.0" stroke="#ffffff" stroke-width="1.4"/>
<line x1="-7" y1="-22" x2="8.7" y2="-28.5" stroke="#ffffff" stroke-width="1.4"/>
<circle cx="-7" cy="-22" r="11" fill="#ffffff"/>
<path d="M27 -99 C45 -97 70 -85 92 -60 L88 -44 C82 -52 76 -56 70 -52 C68 -60 62 -62 56 -56 C52 -66 46 -66 42 -62 C38 -72 33 -74 28 -74 C26 -82 25 -90 27 -99Z" fill="#1e4a20"/>
<path d="M40 -95 L48 -70 M55 -90 L60 -62 M70 -80 L72 -55" stroke="#0e2a10" stroke-width="1.5"/>
<circle cx="78" cy="-47" r="4" fill="#7a4a2a"/><circle cx="84" cy="-44" r="3.5" fill="#6a3a20"/>
<path d="M-60 -60 C-85 -40 -95 -5 -57 18 L-52 18 Z" fill="#f3d5a4" stroke="#1a1a1a" stroke-width="1"/>
<path d="M-61 -60 L-50 29" stroke="#111" stroke-width="3"/>
<path d="M-72 24 L-40 26 L-10 -2 L-2 3 L-30 30 L-68 31 Z" fill="#141414"/>
<path d="M-13 -2 L-2 -4 L3 4 Z" fill="#141414"/>
<ellipse cx="-42" cy="-3" rx="5" ry="15" fill="#d6b07a"/><circle cx="-44" cy="-19" r="4.5" fill="#3a2a1a"/>
<path d="M-36 -8 L-30 25" stroke="#222" stroke-width="1.6"/>
<rect x="-100" y="26" width="200" height="34" fill="#1c3cb8"/>
<path d="M-100 56 C-60 60 0 62 100 56 L100 100 L-100 100 Z" fill="#2c5a2b"/>
<path d="M-55 44 L-8 28 L10 34 L45 30 L40 46 L12 58 L-8 54 Z" fill="#f0d0a0" stroke="#7a5a30" stroke-width="0.8"/>
<path d="M-48 44 L40 36 M-8 30 L8 56 M-35 46 L42 33 M-20 40 L25 52 M0 32 L-15 52" stroke="#ffffff" stroke-width="1.1"/>
<path d="M-92 40 C-85 32 -70 32 -62 40 L-58 72 L-96 76 Z" fill="#d6a877"/>
<circle cx="-79" cy="28" r="10" fill="#3a2016"/><path d="M-90 26 L-67 25" stroke="#d42a1c" stroke-width="3"/>
<path d="M-97 38 C-88 33 -72 33 -63 40 L-72 47 L-97 46 Z" fill="#ffffff"/>
<ellipse cx="-37" cy="68" rx="11" ry="6" fill="#e9dcc6"/>
<path d="M-14 72 C0 66 20 64 34 62 L40 72 L-12 78 Z" fill="#d6a877"/>
<path d="M30 64 L60 62 L62 80 L30 80 Z" fill="#20347e"/>
<path d="M46 46 L78 44 L80 72 L52 74 L44 60 Z" fill="#f2e01e"/>
<circle cx="66" cy="31" r="12" fill="#161616"/>
<path d="M24 46 L40 42 L52 48 L50 60 L38 56 L26 58 Z" fill="#ffffff" stroke="#444" stroke-width="0.8"/>
</g>
<circle cx="0" cy="0" r="99" fill="none" stroke="#1a2a4a" stroke-width="1.5" opacity="0.6"/>
<text font-family="'Liberation Sans', Arial, sans-serif" font-size="19.5" font-weight="700" fill="#0b2a5c" stroke="#0b2a5c" stroke-width="0.5"><textPath href="#arcTop" startOffset="50%" text-anchor="middle" textLength="352" lengthAdjust="spacingAndGlyphs">MARSHALL ISLANDS PUBLIC SCHOOL SYSTEM</textPath></text>
<text font-family="'Liberation Sans', Arial, sans-serif" font-size="19.5" font-weight="700" fill="#0b2a5c" stroke="#0b2a5c" stroke-width="0.5"><textPath href="#arcBot" startOffset="50%" text-anchor="middle" textLength="232" lengthAdjust="spacingAndGlyphs">“EJ JU EL BWE EN LOÑJAT”</textPath></text>
</g>
<text x="2664.5" y="421.5" font-family="'Liberation Sans', Arial, sans-serif" font-size="71.5" font-weight="400" fill="#ffffff" text-anchor="middle" textLength="248" lengthAdjust="spacingAndGlyphs" stroke="#ffffff" stroke-width="1.1">MIEMIS</text>
<path transform="translate(2463.0,512.5) scale(1.4583)" d="M4 14h4v-4H4v4zm0 5h4v-4H4v4zM4 9h4V5H4v4zm5 5h12v-4H9v4zm0 5h12v-4H9v4zM9 5v4h12V5H9z" fill="#fff" />
<text x="2520.5" y="542.0" font-family="'Liberation Sans', Arial, sans-serif" font-size="28.3" font-weight="400" fill="#ffffff" text-anchor="start" >Indicators</text>
<path d="M2862 524.8 L2869.5 531.8 L2862 538.8" stroke="#93bbea" stroke-width="3.6" fill="none" stroke-linecap="round" stroke-linejoin="round"/>
<path transform="translate(2463.0,604.7) scale(1.4583)" d="M11.8 10.9c-2.27-.59-3-1.2-3-2.15 0-1.09 1.01-1.85 2.7-1.85 1.78 0 2.44.85 2.5 2.1h2.21c-.07-1.72-1.12-3.3-3.21-3.81V3h-3v2.16c-1.94.42-3.5 1.68-3.5 3.61 0 2.31 1.91 3.46 4.7 4.13 2.5.6 3 1.48 3 2.41 0 .69-.49 1.79-2.7 1.79-2.06 0-2.87-.92-2.98-2.1h-2.2c.12 2.19 1.76 3.42 3.680 3.83V21h3v-2.15c1.95-.37 3.5-1.5 3.5-3.55 0-2.84-2.43-3.81-4.7-4.4z" fill="#fff" />
<text x="2520.5" y="634.2" font-family="'Liberation Sans', Arial, sans-serif" font-size="28.3" font-weight="400" fill="#ffffff" text-anchor="start" >Budgets</text>
<path d="M2862 617.0 L2869.5 624.0 L2862 631.0" stroke="#93bbea" stroke-width="3.6" fill="none" stroke-linecap="round" stroke-linejoin="round"/>
<path transform="translate(2463.0,696.7) scale(1.4583)" d="M19 3h-4.18C14.4 1.84 13.3 1 12 1c-1.3 0-2.4.84-2.82 2H5c-1.1 0-2 .9-2 2v14c0 1.1.9 2 2 2h14c1.1 0 2-.9 2-2V5c0-1.1-.9-2-2-2zm-7 0c.55 0 1 .45 1 1s-.45 1-1 1-1-.45-1-1 .45-1 1-1zm-2 14l-4-4 1.41-1.41L10 14.17l6.59-6.59L18 9l-8 8z" fill="#fff" />
<text x="2520.5" y="726.2" font-family="'Liberation Sans', Arial, sans-serif" font-size="28.3" font-weight="400" fill="#ffffff" text-anchor="start" >Exams</text>
<path d="M2858 712.0 L2865.2 719.2 L2872.4 712.0" stroke="#93bbea" stroke-width="3.6" fill="none" stroke-linecap="round" stroke-linejoin="round"/>
<path transform="translate(2463.0,1100.9) scale(1.4583)" d="M15 11V5l-3-3-3 3v2H3v14h18V11h-6zm-8 8H5v-2h2v2zm0-4H5v-2h2v2zm0-4H5V9h2v2zm6 8h-2v-2h2v2zm0-4h-2v-2h2v2zm0-4h-2V9h2v2zm0-4h-2V5h2v2zm6 12h-2v-2h2v2zm0-4h-2v-2h2v2z" fill="#fff" />
<text x="2520.5" y="1130.4" font-family="'Liberation Sans', Arial, sans-serif" font-size="28.3" font-weight="400" fill="#ffffff" text-anchor="start" >Schools</text>
<path d="M2862 1113.2 L2869.5 1120.2 L2862 1127.2" stroke="#93bbea" stroke-width="3.6" fill="none" stroke-linecap="round" stroke-linejoin="round"/>
<path transform="translate(2463.0,1193.4) scale(1.4583)" d="M12 12c2.21 0 4-1.790 4-4s-1.79-4-4-4-4 1.79-4 4 1.79 4 4 4zm0 2c-2.67 0-8 1.34-8 4v2h16v-2c0-2.66-5.33-4-8-4z" fill="#fff" />
<text x="2520.5" y="1222.9" font-family="'Liberation Sans', Arial, sans-serif" font-size="28.3" font-weight="400" fill="#ffffff" text-anchor="start" >Teachers</text>
<path d="M2862 1205.7 L2869.5 1212.7 L2862 1219.7" stroke="#93bbea" stroke-width="3.6" fill="none" stroke-linecap="round" stroke-linejoin="round"/>
<path transform="translate(2463.0,1285.9) scale(1.4583)" d="M16.5 13c-1.2 0-3.07.34-4.5 1-1.43-.67-3.3-1-4.5-1C5.33 13 1 14.08 1 16.25V19h22v-2.75c0-2.17-4.33-3.25-6.5-3.25zm-4 4.5h-10v-1.25c0-.54 2.56-1.75 5-1.75s5 1.21 5 1.75v1.25zm9 0H14v-1.25c0-.46-.2-.86-.52-1.22.88-.3 1.96-.53 3.02-.53 2.44 0 5 1.21 5 1.75v1.25zM7.5 12c1.93 0 3.5-1.57 3.5-3.5S9.43 5 7.5 5 4 6.57 4 8.5 5.57 12 7.5 12zm0-5.5c.83 0 1.5.67 1.5 1.5s-.67 1.5-1.5 1.5S6 8.83 6 8s.67-1.5 1.5-1.5zm9 5.5c1.93 0 3.5-1.57 3.5-3.5S18.43 5 16.5 5 13 6.57 13 8.5s1.57 3.5 3.5 3.5zm0-5.5c.83 0 1.5.67 1.5 1.5s-.67 1.5-1.5 1.5S15 8.83 15 8s.67-1.5 1.5-1.5z" fill="#fff" />
<text x="2520.5" y="1315.4" font-family="'Liberation Sans', Arial, sans-serif" font-size="28.3" font-weight="400" fill="#ffffff" text-anchor="start" >Students</text>
<path d="M2862 1298.2 L2869.5 1305.2 L2862 1312.2" stroke="#93bbea" stroke-width="3.6" fill="none" stroke-linecap="round" stroke-linejoin="round"/>
<path transform="translate(2463.0,1378.4) scale(1.4583)" d="M16.5 13c-1.2 0-3.07.34-4.5 1-1.43-.67-3.3-1-4.5-1C5.33 13 1 14.08 1 16.25V19h22v-2.75c0-2.17-4.33-3.25-6.5-3.25zm-4 4.5h-10v-1.25c0-.54 2.56-1.75 5-1.75s5 1.21 5 1.75v1.25zm9 0H14v-1.25c0-.46-.2-.86-.52-1.22.88-.3 1.96-.53 3.02-.53 2.44 0 5 1.21 5 1.75v1.25zM7.5 12c1.93 0 3.5-1.57 3.5-3.5S9.43 5 7.5 5 4 6.57 4 8.5 5.57 12 7.5 12zm0-5.5c.83 0 1.5.67 1.5 1.5s-.67 1.5-1.5 1.5S6 8.83 6 8s.67-1.5 1.5-1.5zm9 5.5c1.93 0 3.5-1.57 3.5-3.5S18.43 5 16.5 5 13 6.57 13 8.5s1.57 3.5 3.5 3.5zm0-5.5c.83 0 1.5.67 1.5 1.5s-.67 1.5-1.5 1.5S15 8.83 15 8s.67-1.5 1.5-1.5z" fill="#fff" />
<text x="2520.5" y="1407.9" font-family="'Liberation Sans', Arial, sans-serif" font-size="28.3" font-weight="400" fill="#ffffff" text-anchor="start" >Special Education</text>
<path d="M2862 1390.7 L2869.5 1397.7 L2862 1404.7" stroke="#93bbea" stroke-width="3.6" fill="none" stroke-linecap="round" stroke-linejoin="round"/>
<path transform="translate(2463.0,1470.2) scale(1.4583)" d="M19 3H5c-1.1 0-2 .9-2 2v14c0 1.1.9 2 2 2h14c1.1 0 2-.9 2-2V5c0-1.1-.9-2-2-2zM9 17H7v-7h2v7zm4 0h-2V7h2v10zm4 0h-2v-4h2v4z" fill="#fff" />
<text x="2520.5" y="1499.7" font-family="'Liberation Sans', Arial, sans-serif" font-size="28.3" font-weight="400" fill="#ffffff" text-anchor="start" >School Accreditations</text>
<path d="M2862 1482.5 L2869.5 1489.5 L2862 1496.5" stroke="#93bbea" stroke-width="3.6" fill="none" stroke-linecap="round" stroke-linejoin="round"/>
<path transform="translate(2463.0,1562.0) scale(1.4583)" d="M19 3H5c-1.1 0-1.99.9-1.99 2L3 19c0 1.1.9 2 2 2h14c1.1 0 2-.9 2-2V5c0-1.1-.9-2-2-2zm-1 11h-4v4h-4v-4H6v-4h4V6h4v4h4v4z" fill="#fff" />
<text x="2520.5" y="1591.5" font-family="'Liberation Sans', Arial, sans-serif" font-size="28.3" font-weight="400" fill="#ffffff" text-anchor="start" >Wash Surveys</text>
<path d="M2862 1574.3 L2869.5 1581.3 L2862 1588.3" stroke="#93bbea" stroke-width="3.6" fill="none" stroke-linecap="round" stroke-linejoin="round"/>
<path transform="translate(2463.0,1653.7) scale(1.4583)" d="M2 4v16h20V4H2zm2 14V6h16v12H4zM5 8h2v8H5zm5 0h3c.55 0 1 .45 1 1v6c0 .55-.45 1-1 1h-3c-.55 0-1-.45-1-1V9c0-.55.45-1 1-1zm1 2v4h1v-4h-1zm5-2h3c.55 0 1 .45 1 1v6c0 .55-.45 1-1 1h-3c-.55 0-1-.45-1-1V9c0-.55.45-1 1-1zm1 2v4h1v-4h-1z" fill="#fff" />
<text x="2520.5" y="1683.2" font-family="'Liberation Sans', Arial, sans-serif" font-size="28.3" font-weight="400" fill="#ffffff" text-anchor="start" >Scholarships</text>
<path d="M2862 1666.0 L2869.5 1673.0 L2862 1680.0" stroke="#93bbea" stroke-width="3.6" fill="none" stroke-linecap="round" stroke-linejoin="round"/>
<path transform="translate(2463.0,1746.3) scale(1.4583)" d="M22.7 19l-9.1-9.1c.9-2.3.4-5-1.5-6.9-2-2-5-2.4-7.4-1.3L9 6 6 9 1.6 4.7C.4 7.1.9 10.1 2.9 12.1c1.9 1.9 4.6 2.4 6.9 1.5l9.1 9.1c.4.4 1 .4 1.4 0l2.3-2.3c.5-.4.5-1.1.1-1.4z" fill="#fff" />
<text x="2520.5" y="1775.8" font-family="'Liberation Sans', Arial, sans-serif" font-size="28.3" font-weight="400" fill="#ffffff" text-anchor="start" >Data Operations</text>
<path d="M2862 1758.6 L2869.5 1765.6 L2862 1772.6" stroke="#93bbea" stroke-width="3.6" fill="none" stroke-linecap="round" stroke-linejoin="round"/>
<path transform="translate(2463.0,1838.7) scale(1.4583)" d="M19.14 12.94c.04-.3.06-.61.06-.94 0-.32-.02-.64-.07-.94l2.03-1.58c.18-.14.23-.41.12-.61l-1.92-3.32c-.12-.22-.37-.29-.59-.22l-2.39.96c-.5-.38-1.03-.7-1.62-.94l-.36-2.54c-.04-.24-.24-.41-.48-.41h-3.84c-.24 0-.43.17-.47.41l-.36 2.54c-.59.24-1.13.57-1.62.94l-2.39-.96c-.22-.08-.47 0-.59.22L2.74 8.87c-.12.21-.08.47.12.61l2.030 1.58c-.05.3-.09.63-.09.94s.02.64.07.94l-2.03 1.58c-.18.14-.23.41-.12.61l1.92 3.32c.12.22.37.29.59.22l2.39-.96c.5.38 1.03.7 1.62.94l.36 2.54c.05.24.24.41.48.41h3.84c.24 0 .44-.17.47-.41l.36-2.54c.59-.24 1.13-.56 1.62-.94l2.39.96c.22.08.47 0 .59-.22l1.92-3.32c.12-.22.07-.47-.12-.61l-2.01-1.58zM12 15.6c-1.98 0-3.6-1.62-3.6-3.6s1.62-3.6 3.6-3.6 3.6 1.62 3.6 3.6-1.62 3.6-3.6 3.6z" fill="#fff" />
<text x="2520.5" y="1868.2" font-family="'Liberation Sans', Arial, sans-serif" font-size="28.3" font-weight="400" fill="#ffffff" text-anchor="start" >System Admin</text>
<path d="M2862 1851.0 L2869.5 1858.0 L2862 1865.0" stroke="#93bbea" stroke-width="3.6" fill="none" stroke-linecap="round" stroke-linejoin="round"/>
<path transform="translate(2517.0,796.7) scale(1.4583)" d="M3 13h8V3H3v10zm0 8h8v-6H3v6zm10 0h8V11h-8v10zm0-18v6h8V3h-8z" fill="#fff" />
<text x="2575.0" y="826.2" font-family="'Liberation Sans', Arial, sans-serif" font-size="28.3" font-weight="400" fill="#ffffff" text-anchor="start" >Dashboard</text>
<path transform="translate(2517.0,865.5) scale(1.4583)" d="M3 13h2v-2H3v2zm0 4h2v-2H3v2zm0-8h2V7H3v2zm4 4h14v-2H7v2zm0 4h14v-2H7v2zM7 7v2h14V7H7z" fill="#fff" />
<text x="2575.0" y="895.0" font-family="'Liberation Sans', Arial, sans-serif" font-size="28.3" font-weight="400" fill="#ffffff" text-anchor="start" >List</text>
<path transform="translate(2517.0,932.7) scale(1.4583)" d="M10 4H4c-1.1 0-1.99.9-1.99 2L2 18c0 1.1.9 2 2 2h16c1.1 0 2-.9 2-2V8c0-1.1-.9-2-2-2h-8l-2-2z" fill="#fff" />
<text x="2575.0" y="962.2" font-family="'Liberation Sans', Arial, sans-serif" font-size="28.3" font-weight="400" fill="#ffffff" text-anchor="start" >Reports</text>
<path transform="translate(2517.0,1000.7) scale(1.4583)" d="M19.35 10.04C18.67 6.59 15.64 4 12 4 9.11 4 6.6 5.64 5.35 8.04 2.34 8.36 0 10.91 0 14c0 3.31 2.69 6 6 6h13c2.76 0 5-2.24 5-5 0-2.64-2.05-4.78-4.65-4.96zM14 13v4h-4v-4H7l5-5 5 5h-3z" fill="#fff" />
<text x="2575.0" y="1030.2" font-family="'Liberation Sans', Arial, sans-serif" font-size="28.3" font-weight="400" fill="#ffffff" text-anchor="start" >Upload</text>
<path d="M2894.3 702 L2876 720.2 L2894.3 737.8 Z" fill="#f3f4f6"/>
<rect x="2894.2" y="0.0" width="2095.3" height="2272.0" fill="#ffffff" />
<rect x="4989.5" y="0.0" width="2.5" height="2272.0" fill="#2b2420" />
<defs><linearGradient id="tbshadow" x1="0" y1="0" x2="0" y2="1"><stop offset="0" stop-color="#000" stop-opacity="0.25"/><stop offset="1" stop-color="#000" stop-opacity="0"/></linearGradient><filter id="cardsh" x="-2%" y="-2%" width="104%" height="104%"><feGaussianBlur in="SourceAlpha" stdDeviation="2.5"/><feOffset dy="2" result="b"/><feComponentTransfer><feFuncA type="linear" slope="0.35"/></feComponentTransfer><feMerge><feMergeNode/><feMergeNode in="SourceGraphic"/></feMerge></filter></defs>
<rect x="2894.2" y="0.0" width="2095.3" height="126.0" fill="#f4f4f4" />
<rect x="2894.2" y="126.0" width="2095.3" height="5.0" fill="url(#tbshadow)" />
<rect x="2932.0" y="51.0" width="36.2" height="3.6" fill="#1a1a1a" />
<rect x="2932.0" y="61.2" width="36.2" height="3.6" fill="#1a1a1a" />
<rect x="2932.0" y="71.0" width="36.2" height="3.6" fill="#1a1a1a" />
<path transform="translate(4554.4,41.8) scale(2.0000)" d="M12 2C6.48 2 2 6.48 2 12s4.48 10 10 10 10-4.48 10-10S17.52 2 12 2zm0 3c1.66 0 3 1.34 3 3s-1.34 3-3 3-3-1.34-3-3 1.34-3 3-3zm0 14.2c-2.5 0-4.71-1.28-6-3.22.03-1.99 4-3.08 6-3.08 1.99 0 5.97 1.09 6 3.08-1.290 1.94-3.5 3.22-6 3.22z" fill="#222222" />
<text x="4617.0" y="72.5" font-family="'Liberation Sans', Arial, sans-serif" font-size="28" font-weight="400" fill="#333333" text-anchor="start" >examuser@pssmoe.emis.net.mh</text>
<rect x="4606.3" y="52.0" width="383.2" height="19.8" fill="#000000" />
<rect x="2926" y="159" width="2032" height="1627" rx="5" fill="#ffffff" filter="url(#cardsh)"/>
<path d="M2926 287 V164 A5 5 0 0 1 2931 159 H4953 A5 5 0 0 1 4958 164 V287 Z" fill="#1565c0"/>
<path transform="translate(2957.4,197.9) scale(2.0500)" d="M11 2v20c-5.07-.5-9-4.79-9-10s3.930-9.5 9-10zm2.03 0v8.99H22c-.47-4.74-4.24-8.52-8.97-8.99zm0 11.01V22c4.74-.47 8.5-4.25 8.97-8.99h-8.97z" fill="#ffffff" opacity="0.3"/>
<text x="3035.6" y="237.5" font-family="'Liberation Sans', Arial, sans-serif" font-size="39.1" font-weight="400" fill="#ffffff" text-anchor="start" >Exams: Reports</text>
<path d="M4891 218 L4902 229 L4913 218" stroke="#e3eaf6" stroke-width="3.8" fill="none" stroke-linecap="round" stroke-linejoin="round"/>
<text x="2966.7" y="377.0" font-family="'Liberation Sans', Arial, sans-serif" font-size="26.5" font-weight="700" fill="#212121" text-anchor="start" >Report title</text>
<text x="3558.0" y="377.0" font-family="'Liberation Sans', Arial, sans-serif" font-size="26.5" font-weight="700" fill="#212121" text-anchor="start" >Report Description</text>
<text x="4742.0" y="377.0" font-family="'Liberation Sans', Arial, sans-serif" font-size="26.5" font-weight="700" fill="#212121" text-anchor="start" textLength="122.5" lengthAdjust="spacingAndGlyphs">Download</text>
<rect x="2956.0" y="416.6" width="1972.0" height="2.0" fill="#d6d6d6" />
<rect x="2956.0" y="419.0" width="1972.0" height="139.7" fill="#f7f7f7" />
<text x="2966.7" y="478.0" font-family="'Liberation Sans', Arial, sans-serif" font-size="27.7" font-weight="400" fill="#212121" text-anchor="start" >Exams Adequate Yearly Progress in</text>
<text x="2966.7" y="518.5" font-family="'Liberation Sans', Arial, sans-serif" font-size="27.7" font-weight="400" fill="#212121" text-anchor="start" >Percentages by Standard Gender Portrait</text>
<text x="3558.0" y="478.0" font-family="'Liberation Sans', Arial, sans-serif" font-size="27.9" font-weight="400" fill="#212121" text-anchor="start" >Percentage of students meeting at least proficient and advanced level</text>
<g transform="translate(4747.0,450.8)"><path d="M3 0 H24 L35.7 11.9 V43 A3 3 0 0 1 32.7 46 H3 A3 3 0 0 1 0 43 V3 A3 3 0 0 1 3 0Z" fill="#e74c3c"/><path d="M24 0 L35.7 11.9 L29 11.9 Z" fill="#c0392b"/><path d="M0 43.6 H35.7 V43 A3 3 0 0 1 32.7 46 H3 A3 3 0 0 1 0 43Z" fill="#cf3e30"/><path d="M2.5 33 C8 37 14 38 19 34 C24 30 28 26 33 21" stroke="#ffffff" stroke-width="2.2" fill="none"/><path d="M22 42 C23 34 27 27 33 22 L31 42 Z" fill="#f2f2f2"/><path d="M4 37 C9 35 12 37 14 41" stroke="#ffffff" stroke-width="1.8" fill="none"/></g>
<g transform="translate(4795.2,450.8)"><path d="M3 0 H24 L35.5 11.9 V43 A3 3 0 0 1 32.5 46 H3 A3 3 0 0 1 0 43 V3 A3 3 0 0 1 3 0Z" fill="#bec4c8"/><path d="M24 0 L35.5 11.9 L27 11.9 Z" fill="#97a5a6"/><path d="M0 43.6 H35.5 V43 A3 3 0 0 1 32.5 46 H3 A3 3 0 0 1 0 43Z" fill="#a3aeb0"/><path d="M4.3 10.5 L7 19.5 L9.5 12.5 L12 19.5 L14.7 10.5" stroke="#2e8fe0" stroke-width="2.6" fill="none" stroke-linejoin="round"/><path d="M18.5 19.3 H29.5 M6.5 25.4 H29.5 M6.5 31.3 H29.5 M6.5 37.2 H29.5" stroke="#5a9fd8" stroke-width="2.4" stroke-linecap="round"/></g>
<g transform="translate(4843.1,450.8)"><path d="M3 0 H24 L35.5 11.9 V43 A3 3 0 0 1 32.5 46 H3 A3 3 0 0 1 0 43 V3 A3 3 0 0 1 3 0Z" fill="#bec4c8"/><path d="M0 43.6 H35.5 V43 A3 3 0 0 1 32.5 46 H3 A3 3 0 0 1 0 43Z" fill="#a3aeb0"/><rect x="6" y="6" width="24.5" height="33" rx="1.5" fill="#16a085"/><rect x="7.5" y="8.2" width="4.5" height="3.6" fill="#1abc9c"/><rect x="7.5" y="14.2" width="4.5" height="3.6" fill="#1abc9c"/><rect x="7.5" y="20.2" width="4.5" height="3.6" fill="#1abc9c"/><rect x="7.5" y="26.2" width="4.5" height="3.6" fill="#1abc9c"/><rect x="7.5" y="32.2" width="4.5" height="3.6" fill="#1abc9c"/><rect x="14" y="8.2" width="5.5" height="3.6" fill="#c4c9cc"/><rect x="22" y="8.2" width="5.5" height="3.6" fill="#c4c9cc"/><rect x="14" y="14.2" width="5.5" height="3.6" fill="#c4c9cc"/><rect x="22" y="14.2" width="5.5" height="3.6" fill="#c4c9cc"/><rect x="14" y="20.2" width="5.5" height="3.6" fill="#c4c9cc"/><rect x="22" y="20.2" width="5.5" height="3.6" fill="#c4c9cc"/><rect x="14" y="26.2" width="5.5" height="3.6" fill="#c4c9cc"/><rect x="22" y="26.2" width="5.5" height="3.6" fill="#c4c9cc"/><rect x="14" y="32.2" width="5.5" height="3.6" fill="#c4c9cc"/><rect x="22" y="32.2" width="5.5" height="3.6" fill="#c4c9cc"/><path d="M24 0 L35.5 11.9 L27 11.9 Z" fill="#97a5a6"/></g>
<text x="2966.7" y="617.7" font-family="'Liberation Sans', Arial, sans-serif" font-size="27.7" font-weight="400" fill="#212121" text-anchor="start" >Exams Adequate Yearly Progress in</text>
<text x="2966.7" y="658.2" font-family="'Liberation Sans', Arial, sans-serif" font-size="27.7" font-weight="400" fill="#212121" text-anchor="start" >Percentages by Standard Portrait</text>
<text x="3558.0" y="617.7" font-family="'Liberation Sans', Arial, sans-serif" font-size="27.9" font-weight="400" fill="#212121" text-anchor="start" >Percentage of students meeting at least proficient and advanced level (no gender)</text>
<g transform="translate(4747.0,590.5)"><path d="M3 0 H24 L35.7 11.9 V43 A3 3 0 0 1 32.7 46 H3 A3 3 0 0 1 0 43 V3 A3 3 0 0 1 3 0Z" fill="#e74c3c"/><path d="M24 0 L35.7 11.9 L29 11.9 Z" fill="#c0392b"/><path d="M0 43.6 H35.7 V43 A3 3 0 0 1 32.7 46 H3 A3 3 0 0 1 0 43Z" fill="#cf3e30"/><path d="M2.5 33 C8 37 14 38 19 34 C24 30 28 26 33 21" stroke="#ffffff" stroke-width="2.2" fill="none"/><path d="M22 42 C23 34 27 27 33 22 L31 42 Z" fill="#f2f2f2"/><path d="M4 37 C9 35 12 37 14 41" stroke="#ffffff" stroke-width="1.8" fill="none"/></g>
<g transform="translate(4795.2,590.5)"><path d="M3 0 H24 L35.5 11.9 V43 A3 3 0 0 1 32.5 46 H3 A3 3 0 0 1 0 43 V3 A3 3 0 0 1 3 0Z" fill="#bec4c8"/><path d="M24 0 L35.5 11.9 L27 11.9 Z" fill="#97a5a6"/><path d="M0 43.6 H35.5 V43 A3 3 0 0 1 32.5 46 H3 A3 3 0 0 1 0 43Z" fill="#a3aeb0"/><path d="M4.3 10.5 L7 19.5 L9.5 12.5 L12 19.5 L14.7 10.5" stroke="#2e8fe0" stroke-width="2.6" fill="none" stroke-linejoin="round"/><path d="M18.5 19.3 H29.5 M6.5 25.4 H29.5 M6.5 31.3 H29.5 M6.5 37.2 H29.5" stroke="#5a9fd8" stroke-width="2.4" stroke-linecap="round"/></g>
<g transform="translate(4843.1,590.5)"><path d="M3 0 H24 L35.5 11.9 V43 A3 3 0 0 1 32.5 46 H3 A3 3 0 0 1 0 43 V3 A3 3 0 0 1 3 0Z" fill="#bec4c8"/><path d="M0 43.6 H35.5 V43 A3 3 0 0 1 32.5 46 H3 A3 3 0 0 1 0 43Z" fill="#a3aeb0"/><rect x="6" y="6" width="24.5" height="33" rx="1.5" fill="#16a085"/><rect x="7.5" y="8.2" width="4.5" height="3.6" fill="#1abc9c"/><rect x="7.5" y="14.2" width="4.5" height="3.6" fill="#1abc9c"/><rect x="7.5" y="20.2" width="4.5" height="3.6" fill="#1abc9c"/><rect x="7.5" y="26.2" width="4.5" height="3.6" fill="#1abc9c"/><rect x="7.5" y="32.2" width="4.5" height="3.6" fill="#1abc9c"/><rect x="14" y="8.2" width="5.5" height="3.6" fill="#c4c9cc"/><rect x="22" y="8.2" width="5.5" height="3.6" fill="#c4c9cc"/><rect x="14" y="14.2" width="5.5" height="3.6" fill="#c4c9cc"/><rect x="22" y="14.2" width="5.5" height="3.6" fill="#c4c9cc"/><rect x="14" y="20.2" width="5.5" height="3.6" fill="#c4c9cc"/><rect x="22" y="20.2" width="5.5" height="3.6" fill="#c4c9cc"/><rect x="14" y="26.2" width="5.5" height="3.6" fill="#c4c9cc"/><rect x="22" y="26.2" width="5.5" height="3.6" fill="#c4c9cc"/><rect x="14" y="32.2" width="5.5" height="3.6" fill="#c4c9cc"/><rect x="22" y="32.2" width="5.5" height="3.6" fill="#c4c9cc"/><path d="M24 0 L35.5 11.9 L27 11.9 Z" fill="#97a5a6"/></g>
<rect x="2956.0" y="698.5" width="1972.0" height="140.3" fill="#f7f7f7" />
<text x="2966.7" y="757.5" font-family="'Liberation Sans', Arial, sans-serif" font-size="27.7" font-weight="400" fill="#212121" text-anchor="start" >Exams Atoll Ranking by Year</text>
<text x="3558.0" y="757.5" font-family="'Liberation Sans', Arial, sans-serif" font-size="27.9" font-weight="400" fill="#212121" text-anchor="start" >Atoll ranking by exams for chosen education level (Primary/Secondary) based on percentage</text>
<text x="3558.0" y="798.0" font-family="'Liberation Sans', Arial, sans-serif" font-size="27.9" font-weight="400" fill="#212121" text-anchor="start" >of candidates (aka. candidate count) with proficient and above.</text>
<g transform="translate(4747.0,730.3)"><path d="M3 0 H24 L35.7 11.9 V43 A3 3 0 0 1 32.7 46 H3 A3 3 0 0 1 0 43 V3 A3 3 0 0 1 3 0Z" fill="#e74c3c"/><path d="M24 0 L35.7 11.9 L29 11.9 Z" fill="#c0392b"/><path d="M0 43.6 H35.7 V43 A3 3 0 0 1 32.7 46 H3 A3 3 0 0 1 0 43Z" fill="#cf3e30"/><path d="M2.5 33 C8 37 14 38 19 34 C24 30 28 26 33 21" stroke="#ffffff" stroke-width="2.2" fill="none"/><path d="M22 42 C23 34 27 27 33 22 L31 42 Z" fill="#f2f2f2"/><path d="M4 37 C9 35 12 37 14 41" stroke="#ffffff" stroke-width="1.8" fill="none"/></g>
<g transform="translate(4795.2,730.3)"><path d="M3 0 H24 L35.5 11.9 V43 A3 3 0 0 1 32.5 46 H3 A3 3 0 0 1 0 43 V3 A3 3 0 0 1 3 0Z" fill="#bec4c8"/><path d="M24 0 L35.5 11.9 L27 11.9 Z" fill="#97a5a6"/><path d="M0 43.6 H35.5 V43 A3 3 0 0 1 32.5 46 H3 A3 3 0 0 1 0 43Z" fill="#a3aeb0"/><path d="M4.3 10.5 L7 19.5 L9.5 12.5 L12 19.5 L14.7 10.5" stroke="#2e8fe0" stroke-width="2.6" fill="none" stroke-linejoin="round"/><path d="M18.5 19.3 H29.5 M6.5 25.4 H29.5 M6.5 31.3 H29.5 M6.5 37.2 H29.5" stroke="#5a9fd8" stroke-width="2.4" stroke-linecap="round"/></g>
<g transform="translate(4843.1,730.3)"><path d="M3 0 H24 L35.5 11.9 V43 A3 3 0 0 1 32.5 46 H3 A3 3 0 0 1 0 43 V3 A3 3 0 0 1 3 0Z" fill="#bec4c8"/><path d="M0 43.6 H35.5 V43 A3 3 0 0 1 32.5 46 H3 A3 3 0 0 1 0 43Z" fill="#a3aeb0"/><rect x="6" y="6" width="24.5" height="33" rx="1.5" fill="#16a085"/><rect x="7.5" y="8.2" width="4.5" height="3.6" fill="#1abc9c"/><rect x="7.5" y="14.2" width="4.5" height="3.6" fill="#1abc9c"/><rect x="7.5" y="20.2" width="4.5" height="3.6" fill="#1abc9c"/><rect x="7.5" y="26.2" width="4.5" height="3.6" fill="#1abc9c"/><rect x="7.5" y="32.2" width="4.5" height="3.6" fill="#1abc9c"/><rect x="14" y="8.2" width="5.5" height="3.6" fill="#c4c9cc"/><rect x="22" y="8.2" width="5.5" height="3.6" fill="#c4c9cc"/><rect x="14" y="14.2" width="5.5" height="3.6" fill="#c4c9cc"/><rect x="22" y="14.2" width="5.5" height="3.6" fill="#c4c9cc"/><rect x="14" y="20.2" width="5.5" height="3.6" fill="#c4c9cc"/><rect x="22" y="20.2" width="5.5" height="3.6" fill="#c4c9cc"/><rect x="14" y="26.2" width="5.5" height="3.6" fill="#c4c9cc"/><rect x="22" y="26.2" width="5.5" height="3.6" fill="#c4c9cc"/><rect x="14" y="32.2" width="5.5" height="3.6" fill="#c4c9cc"/><rect x="22" y="32.2" width="5.5" height="3.6" fill="#c4c9cc"/><path d="M24 0 L35.5 11.9 L27 11.9 Z" fill="#97a5a6"/></g>
<text x="2966.7" y="897.8" font-family="'Liberation Sans', Arial, sans-serif" font-size="27.7" font-weight="400" fill="#212121" text-anchor="start" >Exams Atoll Ranking by Year (% of</text>
<text x="2966.7" y="938.3" font-family="'Liberation Sans', Arial, sans-serif" font-size="27.7" font-weight="400" fill="#212121" text-anchor="start" >Benchmark)</text>
<text x="3558.0" y="897.8" font-family="'Liberation Sans', Arial, sans-serif" font-size="27.9" font-weight="400" fill="#212121" text-anchor="start" >Atoll ranking by exams for chosen education level (Primary/Secondary) based on percentage</text>
<text x="3558.0" y="938.3" font-family="'Liberation Sans', Arial, sans-serif" font-size="27.9" font-weight="400" fill="#212121" text-anchor="start" >of benchmarks (aka. level count) with proficient and above.</text>
<g transform="translate(4747.0,870.6)"><path d="M3 0 H24 L35.7 11.9 V43 A3 3 0 0 1 32.7 46 H3 A3 3 0 0 1 0 43 V3 A3 3 0 0 1 3 0Z" fill="#e74c3c"/><path d="M24 0 L35.7 11.9 L29 11.9 Z" fill="#c0392b"/><path d="M0 43.6 H35.7 V43 A3 3 0 0 1 32.7 46 H3 A3 3 0 0 1 0 43Z" fill="#cf3e30"/><path d="M2.5 33 C8 37 14 38 19 34 C24 30 28 26 33 21" stroke="#ffffff" stroke-width="2.2" fill="none"/><path d="M22 42 C23 34 27 27 33 22 L31 42 Z" fill="#f2f2f2"/><path d="M4 37 C9 35 12 37 14 41" stroke="#ffffff" stroke-width="1.8" fill="none"/></g>
<g transform="translate(4795.2,870.6)"><path d="M3 0 H24 L35.5 11.9 V43 A3 3 0 0 1 32.5 46 H3 A3 3 0 0 1 0 43 V3 A3 3 0 0 1 3 0Z" fill="#bec4c8"/><path d="M24 0 L35.5 11.9 L27 11.9 Z" fill="#97a5a6"/><path d="M0 43.6 H35.5 V43 A3 3 0 0 1 32.5 46 H3 A3 3 0 0 1 0 43Z" fill="#a3aeb0"/><path d="M4.3 10.5 L7 19.5 L9.5 12.5 L12 19.5 L14.7 10.5" stroke="#2e8fe0" stroke-width="2.6" fill="none" stroke-linejoin="round"/><path d="M18.5 19.3 H29.5 M6.5 25.4 H29.5 M6.5 31.3 H29.5 M6.5 37.2 H29.5" stroke="#5a9fd8" stroke-width="2.4" stroke-linecap="round"/></g>
<g transform="translate(4843.1,870.6)"><path d="M3 0 H24 L35.5 11.9 V43 A3 3 0 0 1 32.5 46 H3 A3 3 0 0 1 0 43 V3 A3 3 0 0 1 3 0Z" fill="#bec4c8"/><path d="M0 43.6 H35.5 V43 A3 3 0 0 1 32.5 46 H3 A3 3 0 0 1 0 43Z" fill="#a3aeb0"/><rect x="6" y="6" width="24.5" height="33" rx="1.5" fill="#16a085"/><rect x="7.5" y="8.2" width="4.5" height="3.6" fill="#1abc9c"/><rect x="7.5" y="14.2" width="4.5" height="3.6" fill="#1abc9c"/><rect x="7.5" y="20.2" width="4.5" height="3.6" fill="#1abc9c"/><rect x="7.5" y="26.2" width="4.5" height="3.6" fill="#1abc9c"/><rect x="7.5" y="32.2" width="4.5" height="3.6" fill="#1abc9c"/><rect x="14" y="8.2" width="5.5" height="3.6" fill="#c4c9cc"/><rect x="22" y="8.2" width="5.5" height="3.6" fill="#c4c9cc"/><rect x="14" y="14.2" width="5.5" height="3.6" fill="#c4c9cc"/><rect x="22" y="14.2" width="5.5" height="3.6" fill="#c4c9cc"/><rect x="14" y="20.2" width="5.5" height="3.6" fill="#c4c9cc"/><rect x="22" y="20.2" width="5.5" height="3.6" fill="#c4c9cc"/><rect x="14" y="26.2" width="5.5" height="3.6" fill="#c4c9cc"/><rect x="22" y="26.2" width="5.5" height="3.6" fill="#c4c9cc"/><rect x="14" y="32.2" width="5.5" height="3.6" fill="#c4c9cc"/><rect x="22" y="32.2" width="5.5" height="3.6" fill="#c4c9cc"/><path d="M24 0 L35.5 11.9 L27 11.9 Z" fill="#97a5a6"/></g>
<rect x="2956.0" y="979.0" width="1972.0" height="140.0" fill="#f7f7f7" />
<text x="2966.7" y="1038.0" font-family="'Liberation Sans', Arial, sans-serif" font-size="27.7" font-weight="400" fill="#212121" text-anchor="start" >Exams National Results for Last Three Years</text>
<text x="2966.7" y="1078.5" font-family="'Liberation Sans', Arial, sans-serif" font-size="27.7" font-weight="400" fill="#212121" text-anchor="start" >by ExamName</text>
<text x="3558.0" y="1038.0" font-family="'Liberation Sans', Arial, sans-serif" font-size="27.9" font-weight="400" fill="#212121" text-anchor="start" >Level of achievement performance for chosen school showing last 5 years (proof of concept</text>
<text x="3558.0" y="1078.5" font-family="'Liberation Sans', Arial, sans-serif" font-size="27.9" font-weight="400" fill="#212121" text-anchor="start" >report)</text>
<g transform="translate(4747.0,1010.8)"><path d="M3 0 H24 L35.7 11.9 V43 A3 3 0 0 1 32.7 46 H3 A3 3 0 0 1 0 43 V3 A3 3 0 0 1 3 0Z" fill="#e74c3c"/><path d="M24 0 L35.7 11.9 L29 11.9 Z" fill="#c0392b"/><path d="M0 43.6 H35.7 V43 A3 3 0 0 1 32.7 46 H3 A3 3 0 0 1 0 43Z" fill="#cf3e30"/><path d="M2.5 33 C8 37 14 38 19 34 C24 30 28 26 33 21" stroke="#ffffff" stroke-width="2.2" fill="none"/><path d="M22 42 C23 34 27 27 33 22 L31 42 Z" fill="#f2f2f2"/><path d="M4 37 C9 35 12 37 14 41" stroke="#ffffff" stroke-width="1.8" fill="none"/></g>
<g transform="translate(4795.2,1010.8)"><path d="M3 0 H24 L35.5 11.9 V43 A3 3 0 0 1 32.5 46 H3 A3 3 0 0 1 0 43 V3 A3 3 0 0 1 3 0Z" fill="#bec4c8"/><path d="M24 0 L35.5 11.9 L27 11.9 Z" fill="#97a5a6"/><path d="M0 43.6 H35.5 V43 A3 3 0 0 1 32.5 46 H3 A3 3 0 0 1 0 43Z" fill="#a3aeb0"/><path d="M4.3 10.5 L7 19.5 L9.5 12.5 L12 19.5 L14.7 10.5" stroke="#2e8fe0" stroke-width="2.6" fill="none" stroke-linejoin="round"/><path d="M18.5 19.3 H29.5 M6.5 25.4 H29.5 M6.5 31.3 H29.5 M6.5 37.2 H29.5" stroke="#5a9fd8" stroke-width="2.4" stroke-linecap="round"/></g>
<g transform="translate(4843.1,1010.8)"><path d="M3 0 H24 L35.5 11.9 V43 A3 3 0 0 1 32.5 46 H3 A3 3 0 0 1 0 43 V3 A3 3 0 0 1 3 0Z" fill="#bec4c8"/><path d="M0 43.6 H35.5 V43 A3 3 0 0 1 32.5 46 H3 A3 3 0 0 1 0 43Z" fill="#a3aeb0"/><rect x="6" y="6" width="24.5" height="33" rx="1.5" fill="#16a085"/><rect x="7.5" y="8.2" width="4.5" height="3.6" fill="#1abc9c"/><rect x="7.5" y="14.2" width="4.5" height="3.6" fill="#1abc9c"/><rect x="7.5" y="20.2" width="4.5" height="3.6" fill="#1abc9c"/><rect x="7.5" y="26.2" width="4.5" height="3.6" fill="#1abc9c"/><rect x="7.5" y="32.2" width="4.5" height="3.6" fill="#1abc9c"/><rect x="14" y="8.2" width="5.5" height="3.6" fill="#c4c9cc"/><rect x="22" y="8.2" width="5.5" height="3.6" fill="#c4c9cc"/><rect x="14" y="14.2" width="5.5" height="3.6" fill="#c4c9cc"/><rect x="22" y="14.2" width="5.5" height="3.6" fill="#c4c9cc"/><rect x="14" y="20.2" width="5.5" height="3.6" fill="#c4c9cc"/><rect x="22" y="20.2" width="5.5" height="3.6" fill="#c4c9cc"/><rect x="14" y="26.2" width="5.5" height="3.6" fill="#c4c9cc"/><rect x="22" y="26.2" width="5.5" height="3.6" fill="#c4c9cc"/><rect x="14" y="32.2" width="5.5" height="3.6" fill="#c4c9cc"/><rect x="22" y="32.2" width="5.5" height="3.6" fill="#c4c9cc"/><path d="M24 0 L35.5 11.9 L27 11.9 Z" fill="#97a5a6"/></g>
<text x="2966.7" y="1180.3" font-family="'Liberation Sans', Arial, sans-serif" font-size="27.7" font-weight="400" fill="#212121" text-anchor="start" >Exams Report</text>
<text x="3558.0" y="1180.3" font-family="'Liberation Sans', Arial, sans-serif" font-size="27.9" font-weight="400" fill="#212121" text-anchor="start" >Exam summary report for yearly publication</text>
<g transform="translate(4747.0,1152.5)"><path d="M3 0 H24 L35.7 11.9 V43 A3 3 0 0 1 32.7 46 H3 A3 3 0 0 1 0 43 V3 A3 3 0 0 1 3 0Z" fill="#e74c3c"/><path d="M24 0 L35.7 11.9 L29 11.9 Z" fill="#c0392b"/><path d="M0 43.6 H35.7 V43 A3 3 0 0 1 32.7 46 H3 A3 3 0 0 1 0 43Z" fill="#cf3e30"/><path d="M2.5 33 C8 37 14 38 19 34 C24 30 28 26 33 21" stroke="#ffffff" stroke-width="2.2" fill="none"/><path d="M22 42 C23 34 27 27 33 22 L31 42 Z" fill="#f2f2f2"/><path d="M4 37 C9 35 12 37 14 41" stroke="#ffffff" stroke-width="1.8" fill="none"/></g>
<g transform="translate(4795.2,1152.5)"><path d="M3 0 H24 L35.5 11.9 V43 A3 3 0 0 1 32.5 46 H3 A3 3 0 0 1 0 43 V3 A3 3 0 0 1 3 0Z" fill="#bec4c8"/><path d="M24 0 L35.5 11.9 L27 11.9 Z" fill="#97a5a6"/><path d="M0 43.6 H35.5 V43 A3 3 0 0 1 32.5 46 H3 A3 3 0 0 1 0 43Z" fill="#a3aeb0"/><path d="M4.3 10.5 L7 19.5 L9.5 12.5 L12 19.5 L14.7 10.5" stroke="#2e8fe0" stroke-width="2.6" fill="none" stroke-linejoin="round"/><path d="M18.5 19.3 H29.5 M6.5 25.4 H29.5 M6.5 31.3 H29.5 M6.5 37.2 H29.5" stroke="#5a9fd8" stroke-width="2.4" stroke-linecap="round"/></g>
<g transform="translate(4843.1,1152.5)"><path d="M3 0 H24 L35.5 11.9 V43 A3 3 0 0 1 32.5 46 H3 A3 3 0 0 1 0 43 V3 A3 3 0 0 1 3 0Z" fill="#bec4c8"/><path d="M0 43.6 H35.5 V43 A3 3 0 0 1 32.5 46 H3 A3 3 0 0 1 0 43Z" fill="#a3aeb0"/><rect x="6" y="6" width="24.5" height="33" rx="1.5" fill="#16a085"/><rect x="7.5" y="8.2" width="4.5" height="3.6" fill="#1abc9c"/><rect x="7.5" y="14.2" width="4.5" height="3.6" fill="#1abc9c"/><rect x="7.5" y="20.2" width="4.5" height="3.6" fill="#1abc9c"/><rect x="7.5" y="26.2" width="4.5" height="3.6" fill="#1abc9c"/><rect x="7.5" y="32.2" width="4.5" height="3.6" fill="#1abc9c"/><rect x="14" y="8.2" width="5.5" height="3.6" fill="#c4c9cc"/><rect x="22" y="8.2" width="5.5" height="3.6" fill="#c4c9cc"/><rect x="14" y="14.2" width="5.5" height="3.6" fill="#c4c9cc"/><rect x="22" y="14.2" width="5.5" height="3.6" fill="#c4c9cc"/><rect x="14" y="20.2" width="5.5" height="3.6" fill="#c4c9cc"/><rect x="22" y="20.2" width="5.5" height="3.6" fill="#c4c9cc"/><rect x="14" y="26.2" width="5.5" height="3.6" fill="#c4c9cc"/><rect x="22" y="26.2" width="5.5" height="3.6" fill="#c4c9cc"/><rect x="14" y="32.2" width="5.5" height="3.6" fill="#c4c9cc"/><rect x="22" y="32.2" width="5.5" height="3.6" fill="#c4c9cc"/><path d="M24 0 L35.5 11.9 L27 11.9 Z" fill="#97a5a6"/></g>
<path d="M4893.5 1174.0 L4902.5 1183.5 L4925 1162.5" stroke="#6b6b6b" stroke-width="4.2" fill="none"/>
<rect x="2956.0" y="1228.0" width="1972.0" height="139.8" fill="#f7f7f7" />
<text x="2966.7" y="1287.0" font-family="'Liberation Sans', Arial, sans-serif" font-size="27.7" font-weight="400" fill="#212121" text-anchor="start" >Exams School Ranking by Year</text>
<text x="3558.0" y="1287.0" font-family="'Liberation Sans', Arial, sans-serif" font-size="27.9" font-weight="400" fill="#212121" text-anchor="start" >School ranking by exams for chosen education level (Primary/Secondary) based on</text>
<text x="3558.0" y="1327.5" font-family="'Liberation Sans', Arial, sans-serif" font-size="27.9" font-weight="400" fill="#212121" text-anchor="start" >percentage of candidates (aka. candidate count) with proficient and above.</text>
<g transform="translate(4747.0,1259.8)"><path d="M3 0 H24 L35.7 11.9 V43 A3 3 0 0 1 32.7 46 H3 A3 3 0 0 1 0 43 V3 A3 3 0 0 1 3 0Z" fill="#e74c3c"/><path d="M24 0 L35.7 11.9 L29 11.9 Z" fill="#c0392b"/><path d="M0 43.6 H35.7 V43 A3 3 0 0 1 32.7 46 H3 A3 3 0 0 1 0 43Z" fill="#cf3e30"/><path d="M2.5 33 C8 37 14 38 19 34 C24 30 28 26 33 21" stroke="#ffffff" stroke-width="2.2" fill="none"/><path d="M22 42 C23 34 27 27 33 22 L31 42 Z" fill="#f2f2f2"/><path d="M4 37 C9 35 12 37 14 41" stroke="#ffffff" stroke-width="1.8" fill="none"/></g>
<g transform="translate(4795.2,1259.8)"><path d="M3 0 H24 L35.5 11.9 V43 A3 3 0 0 1 32.5 46 H3 A3 3 0 0 1 0 43 V3 A3 3 0 0 1 3 0Z" fill="#bec4c8"/><path d="M24 0 L35.5 11.9 L27 11.9 Z" fill="#97a5a6"/><path d="M0 43.6 H35.5 V43 A3 3 0 0 1 32.5 46 H3 A3 3 0 0 1 0 43Z" fill="#a3aeb0"/><path d="M4.3 10.5 L7 19.5 L9.5 12.5 L12 19.5 L14.7 10.5" stroke="#2e8fe0" stroke-width="2.6" fill="none" stroke-linejoin="round"/><path d="M18.5 19.3 H29.5 M6.5 25.4 H29.5 M6.5 31.3 H29.5 M6.5 37.2 H29.5" stroke="#5a9fd8" stroke-width="2.4" stroke-linecap="round"/></g>
<g transform="translate(4843.1,1259.8)"><path d="M3 0 H24 L35.5 11.9 V43 A3 3 0 0 1 32.5 46 H3 A3 3 0 0 1 0 43 V3 A3 3 0 0 1 3 0Z" fill="#bec4c8"/><path d="M0 43.6 H35.5 V43 A3 3 0 0 1 32.5 46 H3 A3 3 0 0 1 0 43Z" fill="#a3aeb0"/><rect x="6" y="6" width="24.5" height="33" rx="1.5" fill="#16a085"/><rect x="7.5" y="8.2" width="4.5" height="3.6" fill="#1abc9c"/><rect x="7.5" y="14.2" width="4.5" height="3.6" fill="#1abc9c"/><rect x="7.5" y="20.2" width="4.5" height="3.6" fill="#1abc9c"/><rect x="7.5" y="26.2" width="4.5" height="3.6" fill="#1abc9c"/><rect x="7.5" y="32.2" width="4.5" height="3.6" fill="#1abc9c"/><rect x="14" y="8.2" width="5.5" height="3.6" fill="#c4c9cc"/><rect x="22" y="8.2" width="5.5" height="3.6" fill="#c4c9cc"/><rect x="14" y="14.2" width="5.5" height="3.6" fill="#c4c9cc"/><rect x="22" y="14.2" width="5.5" height="3.6" fill="#c4c9cc"/><rect x="14" y="20.2" width="5.5" height="3.6" fill="#c4c9cc"/><rect x="22" y="20.2" width="5.5" height="3.6" fill="#c4c9cc"/><rect x="14" y="26.2" width="5.5" height="3.6" fill="#c4c9cc"/><rect x="22" y="26.2" width="5.5" height="3.6" fill="#c4c9cc"/><rect x="14" y="32.2" width="5.5" height="3.6" fill="#c4c9cc"/><rect x="22" y="32.2" width="5.5" height="3.6" fill="#c4c9cc"/><path d="M24 0 L35.5 11.9 L27 11.9 Z" fill="#97a5a6"/></g>
<text x="2966.7" y="1426.8" font-family="'Liberation Sans', Arial, sans-serif" font-size="27.7" font-weight="400" fill="#212121" text-anchor="start" >Exams School Ranking by Year (% of</text>
<text x="2966.7" y="1467.3" font-family="'Liberation Sans', Arial, sans-serif" font-size="27.7" font-weight="400" fill="#212121" text-anchor="start" >Benchmark)</text>
<text x="3558.0" y="1426.8" font-family="'Liberation Sans', Arial, sans-serif" font-size="27.9" font-weight="400" fill="#212121" text-anchor="start" >School ranking by exams for chosen education level (Primary/Secondary) based on</text>
<text x="3558.0" y="1467.3" font-family="'Liberation Sans', Arial, sans-serif" font-size="27.9" font-weight="400" fill="#212121" text-anchor="start" >percentage of benchmarks (aka. level count) with proficient and above.</text>
<g transform="translate(4747.0,1399.6)"><path d="M3 0 H24 L35.7 11.9 V43 A3 3 0 0 1 32.7 46 H3 A3 3 0 0 1 0 43 V3 A3 3 0 0 1 3 0Z" fill="#e74c3c"/><path d="M24 0 L35.7 11.9 L29 11.9 Z" fill="#c0392b"/><path d="M0 43.6 H35.7 V43 A3 3 0 0 1 32.7 46 H3 A3 3 0 0 1 0 43Z" fill="#cf3e30"/><path d="M2.5 33 C8 37 14 38 19 34 C24 30 28 26 33 21" stroke="#ffffff" stroke-width="2.2" fill="none"/><path d="M22 42 C23 34 27 27 33 22 L31 42 Z" fill="#f2f2f2"/><path d="M4 37 C9 35 12 37 14 41" stroke="#ffffff" stroke-width="1.8" fill="none"/></g>
<g transform="translate(4795.2,1399.6)"><path d="M3 0 H24 L35.5 11.9 V43 A3 3 0 0 1 32.5 46 H3 A3 3 0 0 1 0 43 V3 A3 3 0 0 1 3 0Z" fill="#bec4c8"/><path d="M24 0 L35.5 11.9 L27 11.9 Z" fill="#97a5a6"/><path d="M0 43.6 H35.5 V43 A3 3 0 0 1 32.5 46 H3 A3 3 0 0 1 0 43Z" fill="#a3aeb0"/><path d="M4.3 10.5 L7 19.5 L9.5 12.5 L12 19.5 L14.7 10.5" stroke="#2e8fe0" stroke-width="2.6" fill="none" stroke-linejoin="round"/><path d="M18.5 19.3 H29.5 M6.5 25.4 H29.5 M6.5 31.3 H29.5 M6.5 37.2 H29.5" stroke="#5a9fd8" stroke-width="2.4" stroke-linecap="round"/></g>
<g transform="translate(4843.1,1399.6)"><path d="M3 0 H24 L35.5 11.9 V43 A3 3 0 0 1 32.5 46 H3 A3 3 0 0 1 0 43 V3 A3 3 0 0 1 3 0Z" fill="#bec4c8"/><path d="M0 43.6 H35.5 V43 A3 3 0 0 1 32.5 46 H3 A3 3 0 0 1 0 43Z" fill="#a3aeb0"/><rect x="6" y="6" width="24.5" height="33" rx="1.5" fill="#16a085"/><rect x="7.5" y="8.2" width="4.5" height="3.6" fill="#1abc9c"/><rect x="7.5" y="14.2" width="4.5" height="3.6" fill="#1abc9c"/><rect x="7.5" y="20.2" width="4.5" height="3.6" fill="#1abc9c"/><rect x="7.5" y="26.2" width="4.5" height="3.6" fill="#1abc9c"/><rect x="7.5" y="32.2" width="4.5" height="3.6" fill="#1abc9c"/><rect x="14" y="8.2" width="5.5" height="3.6" fill="#c4c9cc"/><rect x="22" y="8.2" width="5.5" height="3.6" fill="#c4c9cc"/><rect x="14" y="14.2" width="5.5" height="3.6" fill="#c4c9cc"/><rect x="22" y="14.2" width="5.5" height="3.6" fill="#c4c9cc"/><rect x="14" y="20.2" width="5.5" height="3.6" fill="#c4c9cc"/><rect x="22" y="20.2" width="5.5" height="3.6" fill="#c4c9cc"/><rect x="14" y="26.2" width="5.5" height="3.6" fill="#c4c9cc"/><rect x="22" y="26.2" width="5.5" height="3.6" fill="#c4c9cc"/><rect x="14" y="32.2" width="5.5" height="3.6" fill="#c4c9cc"/><rect x="22" y="32.2" width="5.5" height="3.6" fill="#c4c9cc"/><path d="M24 0 L35.5 11.9 L27 11.9 Z" fill="#97a5a6"/></g>
<rect x="2956.0" y="1507.6" width="1972.0" height="108.0" fill="#f7f7f7" />
<text x="2966.7" y="1568.9" font-family="'Liberation Sans', Arial, sans-serif" font-size="27.7" font-weight="400" fill="#212121" text-anchor="start" >High School Passing List</text>
<text x="3558.0" y="1568.9" font-family="'Liberation Sans', Arial, sans-serif" font-size="27.9" font-weight="400" fill="#212121" text-anchor="start" >List of students passing and not passing the high school test for chosen school, year</text>
<g transform="translate(4747.0,1541.1)"><path d="M3 0 H24 L35.7 11.9 V43 A3 3 0 0 1 32.7 46 H3 A3 3 0 0 1 0 43 V3 A3 3 0 0 1 3 0Z" fill="#e74c3c"/><path d="M24 0 L35.7 11.9 L29 11.9 Z" fill="#c0392b"/><path d="M0 43.6 H35.7 V43 A3 3 0 0 1 32.7 46 H3 A3 3 0 0 1 0 43Z" fill="#cf3e30"/><path d="M2.5 33 C8 37 14 38 19 34 C24 30 28 26 33 21" stroke="#ffffff" stroke-width="2.2" fill="none"/><path d="M22 42 C23 34 27 27 33 22 L31 42 Z" fill="#f2f2f2"/><path d="M4 37 C9 35 12 37 14 41" stroke="#ffffff" stroke-width="1.8" fill="none"/></g>
<g transform="translate(4795.2,1541.1)"><path d="M3 0 H24 L35.5 11.9 V43 A3 3 0 0 1 32.5 46 H3 A3 3 0 0 1 0 43 V3 A3 3 0 0 1 3 0Z" fill="#bec4c8"/><path d="M24 0 L35.5 11.9 L27 11.9 Z" fill="#97a5a6"/><path d="M0 43.6 H35.5 V43 A3 3 0 0 1 32.5 46 H3 A3 3 0 0 1 0 43Z" fill="#a3aeb0"/><path d="M4.3 10.5 L7 19.5 L9.5 12.5 L12 19.5 L14.7 10.5" stroke="#2e8fe0" stroke-width="2.6" fill="none" stroke-linejoin="round"/><path d="M18.5 19.3 H29.5 M6.5 25.4 H29.5 M6.5 31.3 H29.5 M6.5 37.2 H29.5" stroke="#5a9fd8" stroke-width="2.4" stroke-linecap="round"/></g>
<g transform="translate(4843.1,1541.1)"><path d="M3 0 H24 L35.5 11.9 V43 A3 3 0 0 1 32.5 46 H3 A3 3 0 0 1 0 43 V3 A3 3 0 0 1 3 0Z" fill="#bec4c8"/><path d="M0 43.6 H35.5 V43 A3 3 0 0 1 32.5 46 H3 A3 3 0 0 1 0 43Z" fill="#a3aeb0"/><rect x="6" y="6" width="24.5" height="33" rx="1.5" fill="#16a085"/><rect x="7.5" y="8.2" width="4.5" height="3.6" fill="#1abc9c"/><rect x="7.5" y="14.2" width="4.5" height="3.6" fill="#1abc9c"/><rect x="7.5" y="20.2" width="4.5" height="3.6" fill="#1abc9c"/><rect x="7.5" y="26.2" width="4.5" height="3.6" fill="#1abc9c"/><rect x="7.5" y="32.2" width="4.5" height="3.6" fill="#1abc9c"/><rect x="14" y="8.2" width="5.5" height="3.6" fill="#c4c9cc"/><rect x="22" y="8.2" width="5.5" height="3.6" fill="#c4c9cc"/><rect x="14" y="14.2" width="5.5" height="3.6" fill="#c4c9cc"/><rect x="22" y="14.2" width="5.5" height="3.6" fill="#c4c9cc"/><rect x="14" y="20.2" width="5.5" height="3.6" fill="#c4c9cc"/><rect x="22" y="20.2" width="5.5" height="3.6" fill="#c4c9cc"/><rect x="14" y="26.2" width="5.5" height="3.6" fill="#c4c9cc"/><rect x="22" y="26.2" width="5.5" height="3.6" fill="#c4c9cc"/><rect x="14" y="32.2" width="5.5" height="3.6" fill="#c4c9cc"/><rect x="22" y="32.2" width="5.5" height="3.6" fill="#c4c9cc"/><path d="M24 0 L35.5 11.9 L27 11.9 Z" fill="#97a5a6"/></g>
<text x="2966.7" y="1674.6" font-family="'Liberation Sans', Arial, sans-serif" font-size="27.7" font-weight="400" fill="#212121" text-anchor="start" >High School Passing List Proficient Above</text>
<text x="3558.0" y="1674.6" font-family="'Liberation Sans', Arial, sans-serif" font-size="27.9" font-weight="400" fill="#212121" text-anchor="start" >List of students passing and not passing the high school test for chosen school, year using</text>
<text x="3558.0" y="1715.1" font-family="'Liberation Sans', Arial, sans-serif" font-size="27.9" font-weight="400" fill="#212121" text-anchor="start" >the proficient and above rule</text>
<g transform="translate(4747.0,1647.4)"><path d="M3 0 H24 L35.7 11.9 V43 A3 3 0 0 1 32.7 46 H3 A3 3 0 0 1 0 43 V3 A3 3 0 0 1 3 0Z" fill="#e74c3c"/><path d="M24 0 L35.7 11.9 L29 11.9 Z" fill="#c0392b"/><path d="M0 43.6 H35.7 V43 A3 3 0 0 1 32.7 46 H3 A3 3 0 0 1 0 43Z" fill="#cf3e30"/><path d="M2.5 33 C8 37 14 38 19 34 C24 30 28 26 33 21" stroke="#ffffff" stroke-width="2.2" fill="none"/><path d="M22 42 C23 34 27 27 33 22 L31 42 Z" fill="#f2f2f2"/><path d="M4 37 C9 35 12 37 14 41" stroke="#ffffff" stroke-width="1.8" fill="none"/></g>
<g transform="translate(4795.2,1647.4)"><path d="M3 0 H24 L35.5 11.9 V43 A3 3 0 0 1 32.5 46 H3 A3 3 0 0 1 0 43 V3 A3 3 0 0 1 3 0Z" fill="#bec4c8"/><path d="M24 0 L35.5 11.9 L27 11.9 Z" fill="#97a5a6"/><path d="M0 43.6 H35.5 V43 A3 3 0 0 1 32.5 46 H3 A3 3 0 0 1 0 43Z" fill="#a3aeb0"/><path d="M4.3 10.5 L7 19.5 L9.5 12.5 L12 19.5 L14.7 10.5" stroke="#2e8fe0" stroke-width="2.6" fill="none" stroke-linejoin="round"/><path d="M18.5 19.3 H29.5 M6.5 25.4 H29.5 M6.5 31.3 H29.5 M6.5 37.2 H29.5" stroke="#5a9fd8" stroke-width="2.4" stroke-linecap="round"/></g>
<g transform="translate(4843.1,1647.4)"><path d="M3 0 H24 L35.5 11.9 V43 A3 3 0 0 1 32.5 46 H3 A3 3 0 0 1 0 43 V3 A3 3 0 0 1 3 0Z" fill="#bec4c8"/><path d="M0 43.6 H35.5 V43 A3 3 0 0 1 32.5 46 H3 A3 3 0 0 1 0 43Z" fill="#a3aeb0"/><rect x="6" y="6" width="24.5" height="33" rx="1.5" fill="#16a085"/><rect x="7.5" y="8.2" width="4.5" height="3.6" fill="#1abc9c"/><rect x="7.5" y="14.2" width="4.5" height="3.6" fill="#1abc9c"/><rect x="7.5" y="20.2" width="4.5" height="3.6" fill="#1abc9c"/><rect x="7.5" y="26.2" width="4.5" height="3.6" fill="#1abc9c"/><rect x="7.5" y="32.2" width="4.5" height="3.6" fill="#1abc9c"/><rect x="14" y="8.2" width="5.5" height="3.6" fill="#c4c9cc"/><rect x="22" y="8.2" width="5.5" height="3.6" fill="#c4c9cc"/><rect x="14" y="14.2" width="5.5" height="3.6" fill="#c4c9cc"/><rect x="22" y="14.2" width="5.5" height="3.6" fill="#c4c9cc"/><rect x="14" y="20.2" width="5.5" height="3.6" fill="#c4c9cc"/><rect x="22" y="20.2" width="5.5" height="3.6" fill="#c4c9cc"/><rect x="14" y="26.2" width="5.5" height="3.6" fill="#c4c9cc"/><rect x="22" y="26.2" width="5.5" height="3.6" fill="#c4c9cc"/><rect x="14" y="32.2" width="5.5" height="3.6" fill="#c4c9cc"/><rect x="22" y="32.2" width="5.5" height="3.6" fill="#c4c9cc"/><path d="M24 0 L35.5 11.9 L27 11.9 Z" fill="#97a5a6"/></g>
<rect x="2894.2" y="1850.0" width="2095.3" height="1.6" fill="#dcdcdc" />
<text x="3941.8" y="1912" font-family="'Liberation Sans', Arial, sans-serif" font-size="25.4" fill="#212121" text-anchor="middle">Pacific EMIS Project. Code licensed under the <tspan fill="#337ab7">GNU General Public License Version 3</tspan>.</text>
<path d="M2290 468.3 L2303 468.3 C2954.1 473.4 4547.4 483.4 4903.4 1149.7" stroke="#ff2600" stroke-width="20.6" fill="none" stroke-linecap="butt"/>
<path d="M2204.5 468.3 L2303 418.4 L2303 517 Z" fill="#ff2600"/>
<rect x="4312.6" y="1171.5" width="310.0" height="19.9" fill="#ff2600" />
<path d="M4620 1132 L4717.5 1181 L4620 1229.8 Z" fill="#ff2600"/>
</svg>
</body>
</html>
